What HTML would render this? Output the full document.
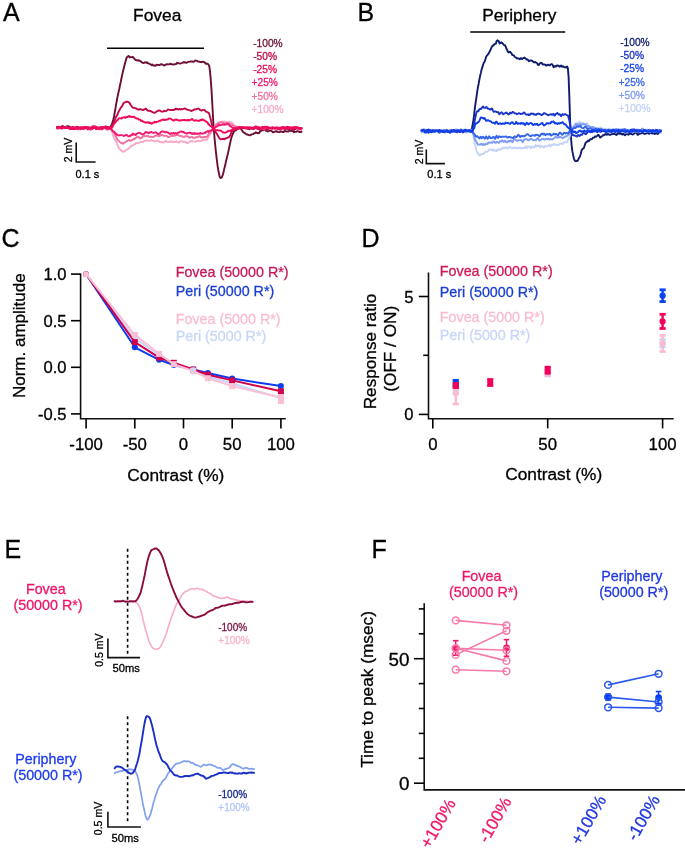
<!DOCTYPE html>
<html><head><meta charset="utf-8"><style>
html,body{margin:0;padding:0;background:#fff;}
svg{display:block;will-change:transform;}
text{font-family:"Liberation Sans", sans-serif;}
</style></head><body>
<svg width="685" height="848" viewBox="0 0 685 848">
<rect width="685" height="848" fill="#fff"/>
<text x="3" y="21" font-size="25" fill="#000" stroke="#000" stroke-width="0.3" text-anchor="start">A</text>
<text x="357.5" y="21" font-size="25" fill="#000" stroke="#000" stroke-width="0.3" text-anchor="start">B</text>
<text x="1.5" y="247.2" font-size="25" fill="#000" stroke="#000" stroke-width="0.3" text-anchor="start">C</text>
<text x="361.5" y="247.2" font-size="25" fill="#000" stroke="#000" stroke-width="0.3" text-anchor="start">D</text>
<text x="4.5" y="557.6" font-size="25" fill="#000" stroke="#000" stroke-width="0.3" text-anchor="start">E</text>
<text x="371.5" y="557.6" font-size="25" fill="#000" stroke="#000" stroke-width="0.3" text-anchor="start">F</text>
<text x="157.2" y="21.1" font-size="17.4" fill="#000" stroke="#000" stroke-width="0.3" text-anchor="middle">Fovea</text>
<line x1="107" y1="48.2" x2="204" y2="48.2" stroke="#000" stroke-width="1.6"/>
<path d="M57.00,127.26 L57.75,127.98 L58.50,127.96 L59.25,128.07 L60.00,128.21 L60.75,127.88 L61.50,128.07 L62.25,127.97 L63.00,127.79 L63.75,127.90 L64.50,127.42 L65.25,127.57 L66.00,126.96 L66.75,126.31 L67.50,126.15 L68.25,126.21 L69.00,126.42 L69.75,126.92 L70.50,127.57 L71.25,127.58 L72.00,127.17 L72.75,126.91 L73.50,126.84 L74.25,126.93 L75.00,127.25 L75.75,127.27 L76.50,126.96 L77.25,126.66 L78.00,127.50 L78.75,127.39 L79.50,127.69 L80.25,128.24 L81.00,127.70 L81.75,127.92 L82.50,127.97 L83.25,127.70 L84.00,127.48 L84.75,127.54 L85.50,127.94 L86.25,127.42 L87.00,128.09 L87.75,128.10 L88.50,127.44 L89.25,128.59 L90.00,128.55 L90.75,128.12 L91.50,128.34 L92.25,127.87 L93.00,127.56 L93.75,128.16 L94.50,128.11 L95.25,128.13 L96.00,128.65 L96.75,128.19 L97.50,128.27 L98.25,127.89 L99.00,127.46 L99.75,127.28 L100.50,127.01 L101.25,127.09 L102.00,127.32 L102.75,128.07 L103.50,127.81 L104.25,127.60 L105.00,127.50 L105.75,126.47 L106.50,126.73 L107.25,126.94 L108.00,127.12 L108.75,127.97 L109.50,127.99 L110.25,127.42 L111.00,125.92 L111.75,124.64 L112.50,122.35 L113.25,119.76 L114.00,116.67 L114.75,112.26 L115.50,108.15 L116.25,103.65 L117.00,99.53 L117.75,95.60 L118.50,92.20 L119.25,88.96 L120.00,85.22 L120.75,81.97 L121.50,77.98 L122.25,74.62 L123.00,71.31 L123.75,68.31 L124.50,65.35 L125.25,62.48 L126.00,59.65 L126.75,57.26 L127.50,56.91 L128.25,56.02 L129.00,56.27 L129.75,57.44 L130.50,57.14 L131.25,57.15 L132.00,57.12 L132.75,56.80 L133.50,57.62 L134.25,58.55 L135.00,59.50 L135.75,60.14 L136.50,60.20 L137.25,60.50 L138.00,60.51 L138.75,60.22 L139.50,60.91 L140.25,60.95 L141.00,61.57 L141.75,62.29 L142.50,62.54 L143.25,62.93 L144.00,62.86 L144.75,62.39 L145.50,62.21 L146.25,62.72 L147.00,62.27 L147.75,63.39 L148.50,63.39 L149.25,63.70 L150.00,64.29 L150.75,64.42 L151.50,65.16 L152.25,64.52 L153.00,65.27 L153.75,65.52 L154.50,65.45 L155.25,65.86 L156.00,65.40 L156.75,64.61 L157.50,64.97 L158.25,64.88 L159.00,64.90 L159.75,64.94 L160.50,64.36 L161.25,64.11 L162.00,64.51 L162.75,64.70 L163.50,65.19 L164.25,65.59 L165.00,64.93 L165.75,64.84 L166.50,64.32 L167.25,64.28 L168.00,64.36 L168.75,64.33 L169.50,64.03 L170.25,63.73 L171.00,64.36 L171.75,64.20 L172.50,64.26 L173.25,64.58 L174.00,64.43 L174.75,64.10 L175.50,64.29 L176.25,63.88 L177.00,62.75 L177.75,63.35 L178.50,63.30 L179.25,63.41 L180.00,63.62 L180.75,63.41 L181.50,63.12 L182.25,62.92 L183.00,62.69 L183.75,62.02 L184.50,62.51 L185.25,62.27 L186.00,62.60 L186.75,62.83 L187.50,62.08 L188.25,61.91 L189.00,61.84 L189.75,61.57 L190.50,61.49 L191.25,61.49 L192.00,61.51 L192.75,61.69 L193.50,61.74 L194.25,61.45 L195.00,60.55 L195.75,60.60 L196.50,60.79 L197.25,60.95 L198.00,61.62 L198.75,61.63 L199.50,61.66 L200.25,62.10 L201.00,61.88 L201.75,62.22 L202.50,61.66 L203.25,61.76 L204.00,62.20 L204.75,62.16 L205.50,63.39 L206.25,63.88 L207.00,63.76 L207.75,63.74 L208.50,64.68 L209.25,65.90 L210.00,71.40 L210.75,79.67 L211.50,89.85 L212.25,103.19 L213.00,116.79 L213.75,128.53 L214.50,137.59 L215.25,145.62 L216.00,152.55 L216.75,159.09 L217.50,165.19 L218.25,170.00 L219.00,173.60 L219.75,176.97 L220.50,178.08 L221.25,177.93 L222.00,176.92 L222.75,175.01 L223.50,172.29 L224.25,168.87 L225.00,166.08 L225.75,162.43 L226.50,159.24 L227.25,156.12 L228.00,153.22 L228.75,149.57 L229.50,146.27 L230.25,142.61 L231.00,139.00 L231.75,136.76 L232.50,134.46 L233.25,133.07 L234.00,131.50 L234.75,131.04 L235.50,130.40 L236.25,129.94 L237.00,129.53 L237.75,128.57 L238.50,128.51 L239.25,127.85 L240.00,127.34 L240.75,128.49 L241.50,129.70 L242.25,130.84 L243.00,132.04 L243.75,132.43 L244.50,132.86 L245.25,133.32 L246.00,134.03 L246.75,134.56 L247.50,134.44 L248.25,134.85 L249.00,135.16 L249.75,135.32 L250.50,134.95 L251.25,134.73 L252.00,134.14 L252.75,134.17 L253.50,133.81 L254.25,133.30 L255.00,133.23 L255.75,132.18 L256.50,132.93 L257.25,133.20 L258.00,132.79 L258.75,133.19 L259.50,132.48 L260.25,130.89 L261.00,130.86 L261.75,130.36 L262.50,130.07 L263.25,130.41 L264.00,130.13 L264.75,130.04 L265.50,130.39 L266.25,130.87 L267.00,130.98 L267.75,131.58 L268.50,131.06 L269.25,130.88 L270.00,130.36 L270.75,130.44 L271.50,131.01 L272.25,131.51 L273.00,132.39 L273.75,131.99 L274.50,131.82 L275.25,131.50 L276.00,131.28 L276.75,131.32 L277.50,131.79 L278.25,132.09 L279.00,132.16 L279.75,131.96 L280.50,131.27 L281.25,131.61 L282.00,131.79 L282.75,132.00 L283.50,132.09 L284.25,131.21 L285.00,131.03 L285.75,131.29 L286.50,131.27 L287.25,131.56 L288.00,131.51 L288.75,131.26 L289.50,130.87 L290.25,130.87 L291.00,130.66 L291.75,130.92 L292.50,131.18 L293.25,131.45 L294.00,132.22 L294.75,131.83 L295.50,131.89 L296.25,131.76 L297.00,131.26 L297.75,131.04 L298.50,131.39 L299.25,131.98 L300.00,131.90 L300.75,132.16 L301.50,131.67" fill="none" stroke="#6c0f36" stroke-width="1.9" stroke-linejoin="round" stroke-linecap="round"/>
<path d="M57.00,128.83 L57.75,128.56 L58.50,127.94 L59.25,127.32 L60.00,127.86 L60.75,128.37 L61.50,128.50 L62.25,128.21 L63.00,127.56 L63.75,127.35 L64.50,127.59 L65.25,127.93 L66.00,128.19 L66.75,128.00 L67.50,128.06 L68.25,128.05 L69.00,127.93 L69.75,128.19 L70.50,128.81 L71.25,128.94 L72.00,128.98 L72.75,128.27 L73.50,127.79 L74.25,126.96 L75.00,126.49 L75.75,127.31 L76.50,127.42 L77.25,128.00 L78.00,127.90 L78.75,127.50 L79.50,127.05 L80.25,127.31 L81.00,128.60 L81.75,128.79 L82.50,128.76 L83.25,128.17 L84.00,127.42 L84.75,127.29 L85.50,127.17 L86.25,127.59 L87.00,127.23 L87.75,127.65 L88.50,128.37 L89.25,128.69 L90.00,128.91 L90.75,128.71 L91.50,128.32 L92.25,127.84 L93.00,127.89 L93.75,127.30 L94.50,126.87 L95.25,127.26 L96.00,127.30 L96.75,127.80 L97.50,128.59 L98.25,127.77 L99.00,127.58 L99.75,127.56 L100.50,127.37 L101.25,127.81 L102.00,128.40 L102.75,128.41 L103.50,127.89 L104.25,127.71 L105.00,127.63 L105.75,127.72 L106.50,127.49 L107.25,128.23 L108.00,128.17 L108.75,128.45 L109.50,128.94 L110.25,128.48 L111.00,128.84 L111.75,130.94 L112.50,133.15 L113.25,135.98 L114.00,138.07 L114.75,139.05 L115.50,140.40 L116.25,141.62 L117.00,143.94 L117.75,145.10 L118.50,147.39 L119.25,148.71 L120.00,149.08 L120.75,150.31 L121.50,150.67 L122.25,151.20 L123.00,151.74 L123.75,151.66 L124.50,151.48 L125.25,150.74 L126.00,149.95 L126.75,149.60 L127.50,149.39 L128.25,148.68 L129.00,148.48 L129.75,147.60 L130.50,146.26 L131.25,146.29 L132.00,145.39 L132.75,145.43 L133.50,144.92 L134.25,144.32 L135.00,144.12 L135.75,143.15 L136.50,143.36 L137.25,142.97 L138.00,143.02 L138.75,143.05 L139.50,142.32 L140.25,142.15 L141.00,141.81 L141.75,141.98 L142.50,141.90 L143.25,141.79 L144.00,141.10 L144.75,140.90 L145.50,140.76 L146.25,140.12 L147.00,140.61 L147.75,140.72 L148.50,140.56 L149.25,140.79 L150.00,140.58 L150.75,139.86 L151.50,140.50 L152.25,140.61 L153.00,140.65 L153.75,141.24 L154.50,140.90 L155.25,141.34 L156.00,141.30 L156.75,140.76 L157.50,140.46 L158.25,140.97 L159.00,141.23 L159.75,141.76 L160.50,142.39 L161.25,141.89 L162.00,142.06 L162.75,142.65 L163.50,142.38 L164.25,141.87 L165.00,141.57 L165.75,140.56 L166.50,141.18 L167.25,141.99 L168.00,142.04 L168.75,142.06 L169.50,141.72 L170.25,141.93 L171.00,141.35 L171.75,141.98 L172.50,141.76 L173.25,141.64 L174.00,142.21 L174.75,141.94 L175.50,141.80 L176.25,141.13 L177.00,141.93 L177.75,142.27 L178.50,142.62 L179.25,142.64 L180.00,141.56 L180.75,141.15 L181.50,141.25 L182.25,141.49 L183.00,142.05 L183.75,141.79 L184.50,141.76 L185.25,141.75 L186.00,142.17 L186.75,143.11 L187.50,143.06 L188.25,142.79 L189.00,142.32 L189.75,141.48 L190.50,141.25 L191.25,141.44 L192.00,141.08 L192.75,141.44 L193.50,141.61 L194.25,141.66 L195.00,141.90 L195.75,141.42 L196.50,141.10 L197.25,140.90 L198.00,140.73 L198.75,141.00 L199.50,141.25 L200.25,140.84 L201.00,140.98 L201.75,140.40 L202.50,140.12 L203.25,140.37 L204.00,139.55 L204.75,139.87 L205.50,139.94 L206.25,139.75 L207.00,139.66 L207.75,138.51 L208.50,136.91 L209.25,135.57 L210.00,134.29 L210.75,133.20 L211.50,131.77 L212.25,130.53 L213.00,129.39 L213.75,128.06 L214.50,127.19 L215.25,126.13 L216.00,124.44 L216.75,123.67 L217.50,123.17 L218.25,122.67 L219.00,123.03 L219.75,122.39 L220.50,121.98 L221.25,121.89 L222.00,121.75 L222.75,121.91 L223.50,121.43 L224.25,121.39 L225.00,121.69 L225.75,122.07 L226.50,122.81 L227.25,122.34 L228.00,122.51 L228.75,122.39 L229.50,121.75 L230.25,122.65 L231.00,122.22 L231.75,122.31 L232.50,123.45 L233.25,124.29 L234.00,125.20 L234.75,126.22 L235.50,127.43 L236.25,127.86 L237.00,128.14 L237.75,128.08 L238.50,127.21 L239.25,126.56 L240.00,126.82 L240.75,127.11 L241.50,127.64 L242.25,128.26 L243.00,127.93 L243.75,127.85 L244.50,128.10 L245.25,128.02 L246.00,128.66 L246.75,128.84 L247.50,128.53 L248.25,128.47 L249.00,127.81 L249.75,127.16 L250.50,127.45 L251.25,127.31 L252.00,127.74 L252.75,127.72 L253.50,127.41 L254.25,127.23 L255.00,126.85 L255.75,126.67 L256.50,126.68 L257.25,127.17 L258.00,127.57 L258.75,128.11 L259.50,128.22 L260.25,128.17 L261.00,127.15 L261.75,127.30 L262.50,127.48 L263.25,127.46 L264.00,128.91 L264.75,129.32 L265.50,129.24 L266.25,129.12 L267.00,128.82 L267.75,128.28 L268.50,128.17 L269.25,128.36 L270.00,128.74 L270.75,128.87 L271.50,128.86 L272.25,128.63 L273.00,128.43 L273.75,128.48 L274.50,128.97 L275.25,128.59 L276.00,128.09 L276.75,128.04 L277.50,127.82 L278.25,128.47 L279.00,128.04 L279.75,127.81 L280.50,127.66 L281.25,127.11 L282.00,127.10 L282.75,127.74 L283.50,127.79 L284.25,128.16 L285.00,128.50 L285.75,128.50 L286.50,128.26 L287.25,128.46 L288.00,128.32 L288.75,127.70 L289.50,127.85 L290.25,127.26 L291.00,127.78 L291.75,128.14 L292.50,127.78 L293.25,128.03 L294.00,127.69 L294.75,127.91 L295.50,128.00 L296.25,127.84 L297.00,128.34 L297.75,128.77 L298.50,129.63 L299.25,129.79 L300.00,129.47 L300.75,129.24 L301.50,128.55" fill="none" stroke="#f8aac9" stroke-width="1.9" stroke-linejoin="round" stroke-linecap="round"/>
<path d="M57.00,127.98 L57.75,128.12 L58.50,128.32 L59.25,127.97 L60.00,127.65 L60.75,127.42 L61.50,127.63 L62.25,127.91 L63.00,127.79 L63.75,128.00 L64.50,127.56 L65.25,127.80 L66.00,127.52 L66.75,127.30 L67.50,127.25 L68.25,127.84 L69.00,128.67 L69.75,128.97 L70.50,129.33 L71.25,129.17 L72.00,128.79 L72.75,128.71 L73.50,128.87 L74.25,128.36 L75.00,128.65 L75.75,128.61 L76.50,128.84 L77.25,129.23 L78.00,129.20 L78.75,129.59 L79.50,128.30 L80.25,127.95 L81.00,127.71 L81.75,127.63 L82.50,128.51 L83.25,128.19 L84.00,127.70 L84.75,127.68 L85.50,127.22 L86.25,127.22 L87.00,127.57 L87.75,127.34 L88.50,126.83 L89.25,127.34 L90.00,127.62 L90.75,128.09 L91.50,129.48 L92.25,129.09 L93.00,128.43 L93.75,127.77 L94.50,126.74 L95.25,126.57 L96.00,127.18 L96.75,126.82 L97.50,127.32 L98.25,127.00 L99.00,127.07 L99.75,127.68 L100.50,127.47 L101.25,127.94 L102.00,127.66 L102.75,127.50 L103.50,127.05 L104.25,127.07 L105.00,127.84 L105.75,128.69 L106.50,129.66 L107.25,129.90 L108.00,129.08 L108.75,128.91 L109.50,128.46 L110.25,128.24 L111.00,128.85 L111.75,129.35 L112.50,130.46 L113.25,131.83 L114.00,132.95 L114.75,134.01 L115.50,135.93 L116.25,137.07 L117.00,138.54 L117.75,140.04 L118.50,140.67 L119.25,141.35 L120.00,142.17 L120.75,142.86 L121.50,142.95 L122.25,143.32 L123.00,143.75 L123.75,143.03 L124.50,142.70 L125.25,142.19 L126.00,141.86 L126.75,141.14 L127.50,140.62 L128.25,140.39 L129.00,139.90 L129.75,140.50 L130.50,140.94 L131.25,140.37 L132.00,140.17 L132.75,139.65 L133.50,138.76 L134.25,139.23 L135.00,138.47 L135.75,137.69 L136.50,137.60 L137.25,136.75 L138.00,136.67 L138.75,137.32 L139.50,137.40 L140.25,138.29 L141.00,138.32 L141.75,137.59 L142.50,137.13 L143.25,136.20 L144.00,135.76 L144.75,136.29 L145.50,136.22 L146.25,135.78 L147.00,136.30 L147.75,136.03 L148.50,136.26 L149.25,136.85 L150.00,136.75 L150.75,136.73 L151.50,136.94 L152.25,136.98 L153.00,136.85 L153.75,136.92 L154.50,136.00 L155.25,135.78 L156.00,135.54 L156.75,135.46 L157.50,135.49 L158.25,136.07 L159.00,136.19 L159.75,135.74 L160.50,135.63 L161.25,135.01 L162.00,134.96 L162.75,135.13 L163.50,135.73 L164.25,135.63 L165.00,135.85 L165.75,135.86 L166.50,135.84 L167.25,136.38 L168.00,137.06 L168.75,136.99 L169.50,136.87 L170.25,136.30 L171.00,135.74 L171.75,135.72 L172.50,135.74 L173.25,136.02 L174.00,135.47 L174.75,135.56 L175.50,135.59 L176.25,134.94 L177.00,134.82 L177.75,135.02 L178.50,135.25 L179.25,135.90 L180.00,135.82 L180.75,135.83 L181.50,136.07 L182.25,136.33 L183.00,136.91 L183.75,136.80 L184.50,136.77 L185.25,136.42 L186.00,136.09 L186.75,136.14 L187.50,136.43 L188.25,136.71 L189.00,137.49 L189.75,137.62 L190.50,137.47 L191.25,137.22 L192.00,136.81 L192.75,137.79 L193.50,137.75 L194.25,137.79 L195.00,137.83 L195.75,137.14 L196.50,137.29 L197.25,137.30 L198.00,136.77 L198.75,136.58 L199.50,136.19 L200.25,136.38 L201.00,137.34 L201.75,137.47 L202.50,137.63 L203.25,137.11 L204.00,136.81 L204.75,137.21 L205.50,137.00 L206.25,137.21 L207.00,136.54 L207.75,135.80 L208.50,134.49 L209.25,133.57 L210.00,132.89 L210.75,131.77 L211.50,131.09 L212.25,130.34 L213.00,129.22 L213.75,128.18 L214.50,127.45 L215.25,126.08 L216.00,125.23 L216.75,124.60 L217.50,123.55 L218.25,123.25 L219.00,123.11 L219.75,122.27 L220.50,122.45 L221.25,122.01 L222.00,122.02 L222.75,123.00 L223.50,123.51 L224.25,123.73 L225.00,123.58 L225.75,122.92 L226.50,122.44 L227.25,123.24 L228.00,122.85 L228.75,123.47 L229.50,123.75 L230.25,124.04 L231.00,124.85 L231.75,124.63 L232.50,125.17 L233.25,125.43 L234.00,125.87 L234.75,126.74 L235.50,126.93 L236.25,126.37 L237.00,126.93 L237.75,127.14 L238.50,127.38 L239.25,128.12 L240.00,128.17 L240.75,127.81 L241.50,127.55 L242.25,127.48 L243.00,127.54 L243.75,127.25 L244.50,127.88 L245.25,127.75 L246.00,127.01 L246.75,127.88 L247.50,127.48 L248.25,127.27 L249.00,127.52 L249.75,127.43 L250.50,127.85 L251.25,128.15 L252.00,128.40 L252.75,128.34 L253.50,127.75 L254.25,128.01 L255.00,127.88 L255.75,127.48 L256.50,127.54 L257.25,127.45 L258.00,127.48 L258.75,127.47 L259.50,127.50 L260.25,127.85 L261.00,127.91 L261.75,128.39 L262.50,128.92 L263.25,128.76 L264.00,129.43 L264.75,128.88 L265.50,128.75 L266.25,128.46 L267.00,128.33 L267.75,129.16 L268.50,128.26 L269.25,128.06 L270.00,127.67 L270.75,127.38 L271.50,128.26 L272.25,128.55 L273.00,128.49 L273.75,128.45 L274.50,128.18 L275.25,128.54 L276.00,127.66 L276.75,127.66 L277.50,127.35 L278.25,127.33 L279.00,128.00 L279.75,127.50 L280.50,127.96 L281.25,127.36 L282.00,127.14 L282.75,126.92 L283.50,126.79 L284.25,127.25 L285.00,127.89 L285.75,128.35 L286.50,128.70 L287.25,128.55 L288.00,128.19 L288.75,128.43 L289.50,128.43 L290.25,128.32 L291.00,128.27 L291.75,128.04 L292.50,127.73 L293.25,127.55 L294.00,127.96 L294.75,127.89 L295.50,128.02 L296.25,128.05 L297.00,127.83 L297.75,128.10 L298.50,127.81 L299.25,128.74 L300.00,128.75 L300.75,129.21 L301.50,129.66" fill="none" stroke="#f070a0" stroke-width="1.9" stroke-linejoin="round" stroke-linecap="round"/>
<path d="M57.00,127.09 L57.75,126.93 L58.50,127.58 L59.25,127.55 L60.00,127.32 L60.75,126.98 L61.50,126.71 L62.25,125.96 L63.00,126.11 L63.75,127.19 L64.50,127.20 L65.25,128.07 L66.00,127.94 L66.75,127.52 L67.50,127.76 L68.25,127.53 L69.00,128.16 L69.75,128.63 L70.50,128.80 L71.25,128.86 L72.00,128.36 L72.75,127.98 L73.50,127.83 L74.25,128.06 L75.00,128.37 L75.75,128.74 L76.50,128.18 L77.25,127.81 L78.00,128.11 L78.75,127.43 L79.50,127.82 L80.25,127.83 L81.00,127.09 L81.75,127.25 L82.50,128.30 L83.25,128.76 L84.00,128.84 L84.75,128.52 L85.50,127.60 L86.25,127.55 L87.00,127.64 L87.75,127.70 L88.50,128.12 L89.25,128.08 L90.00,128.22 L90.75,128.08 L91.50,127.29 L92.25,126.78 L93.00,126.18 L93.75,126.79 L94.50,127.09 L95.25,127.47 L96.00,128.80 L96.75,128.94 L97.50,128.77 L98.25,128.90 L99.00,128.67 L99.75,128.04 L100.50,128.11 L101.25,127.79 L102.00,126.89 L102.75,127.61 L103.50,127.14 L104.25,126.82 L105.00,127.25 L105.75,126.70 L106.50,127.53 L107.25,127.98 L108.00,128.00 L108.75,128.44 L109.50,127.69 L110.25,127.60 L111.00,127.20 L111.75,125.96 L112.50,125.59 L113.25,123.72 L114.00,121.85 L114.75,120.04 L115.50,118.09 L116.25,116.36 L117.00,115.42 L117.75,114.08 L118.50,111.72 L119.25,110.42 L120.00,109.19 L120.75,107.48 L121.50,106.92 L122.25,105.80 L123.00,104.08 L123.75,103.16 L124.50,102.35 L125.25,102.20 L126.00,101.95 L126.75,101.80 L127.50,101.79 L128.25,101.98 L129.00,102.44 L129.75,103.26 L130.50,104.78 L131.25,105.69 L132.00,106.85 L132.75,107.59 L133.50,107.69 L134.25,107.93 L135.00,108.05 L135.75,108.54 L136.50,108.50 L137.25,109.26 L138.00,109.61 L138.75,109.31 L139.50,109.63 L140.25,109.09 L141.00,109.25 L141.75,109.38 L142.50,110.02 L143.25,110.09 L144.00,109.40 L144.75,109.49 L145.50,108.56 L146.25,108.89 L147.00,110.05 L147.75,110.58 L148.50,110.87 L149.25,110.70 L150.00,111.00 L150.75,110.95 L151.50,111.43 L152.25,112.07 L153.00,112.33 L153.75,112.68 L154.50,112.75 L155.25,112.55 L156.00,111.97 L156.75,111.36 L157.50,110.97 L158.25,110.87 L159.00,110.35 L159.75,110.52 L160.50,110.87 L161.25,111.59 L162.00,111.58 L162.75,111.52 L163.50,111.40 L164.25,110.73 L165.00,111.30 L165.75,111.12 L166.50,110.85 L167.25,110.11 L168.00,109.41 L168.75,109.68 L169.50,109.89 L170.25,110.03 L171.00,110.14 L171.75,109.91 L172.50,109.99 L173.25,110.06 L174.00,110.03 L174.75,109.37 L175.50,108.76 L176.25,109.42 L177.00,108.73 L177.75,109.16 L178.50,109.55 L179.25,108.85 L180.00,109.25 L180.75,109.30 L181.50,109.19 L182.25,109.26 L183.00,108.88 L183.75,108.83 L184.50,108.54 L185.25,108.39 L186.00,109.07 L186.75,109.33 L187.50,109.90 L188.25,109.92 L189.00,110.15 L189.75,110.33 L190.50,110.42 L191.25,111.04 L192.00,110.71 L192.75,110.28 L193.50,110.20 L194.25,109.32 L195.00,109.46 L195.75,109.37 L196.50,109.01 L197.25,108.92 L198.00,108.59 L198.75,108.79 L199.50,109.24 L200.25,110.17 L201.00,110.48 L201.75,110.48 L202.50,109.97 L203.25,109.83 L204.00,109.84 L204.75,110.16 L205.50,111.20 L206.25,111.60 L207.00,111.99 L207.75,112.46 L208.50,112.57 L209.25,113.89 L210.00,116.84 L210.75,119.42 L211.50,122.31 L212.25,125.95 L213.00,128.20 L213.75,129.48 L214.50,131.02 L215.25,131.79 L216.00,132.43 L216.75,133.63 L217.50,135.04 L218.25,136.35 L219.00,137.50 L219.75,138.61 L220.50,139.25 L221.25,139.06 L222.00,139.14 L222.75,139.06 L223.50,138.70 L224.25,139.33 L225.00,138.97 L225.75,138.18 L226.50,138.33 L227.25,137.77 L228.00,137.46 L228.75,137.41 L229.50,136.41 L230.25,135.28 L231.00,133.34 L231.75,131.79 L232.50,130.41 L233.25,129.31 L234.00,129.54 L234.75,129.54 L235.50,129.01 L236.25,128.59 L237.00,129.02 L237.75,128.45 L238.50,128.17 L239.25,128.58 L240.00,128.02 L240.75,127.91 L241.50,128.54 L242.25,128.27 L243.00,127.81 L243.75,128.07 L244.50,128.04 L245.25,127.97 L246.00,128.36 L246.75,128.25 L247.50,128.90 L248.25,128.86 L249.00,129.19 L249.75,129.19 L250.50,128.22 L251.25,128.68 L252.00,128.51 L252.75,128.93 L253.50,129.07 L254.25,128.63 L255.00,128.16 L255.75,127.91 L256.50,127.99 L257.25,128.64 L258.00,128.95 L258.75,129.12 L259.50,129.43 L260.25,129.03 L261.00,128.41 L261.75,127.68 L262.50,126.72 L263.25,127.19 L264.00,127.40 L264.75,128.19 L265.50,128.85 L266.25,128.89 L267.00,129.50 L267.75,129.07 L268.50,128.82 L269.25,128.30 L270.00,128.04 L270.75,127.90 L271.50,127.97 L272.25,128.47 L273.00,127.87 L273.75,128.13 L274.50,127.86 L275.25,127.40 L276.00,128.24 L276.75,128.15 L277.50,128.70 L278.25,128.14 L279.00,128.23 L279.75,128.07 L280.50,128.03 L281.25,128.62 L282.00,127.43 L282.75,127.39 L283.50,127.27 L284.25,127.73 L285.00,128.67 L285.75,129.01 L286.50,128.50 L287.25,128.47 L288.00,128.97 L288.75,128.91 L289.50,129.31 L290.25,128.33 L291.00,128.04 L291.75,128.92 L292.50,129.24 L293.25,130.19 L294.00,130.09 L294.75,128.90 L295.50,129.11 L296.25,128.31 L297.00,128.08 L297.75,128.50 L298.50,128.36 L299.25,128.91 L300.00,129.11 L300.75,128.79 L301.50,128.09" fill="none" stroke="#c00a4a" stroke-width="1.9" stroke-linejoin="round" stroke-linecap="round"/>
<path d="M57.00,128.31 L57.75,128.36 L58.50,128.08 L59.25,128.24 L60.00,127.52 L60.75,127.90 L61.50,128.68 L62.25,128.27 L63.00,127.96 L63.75,127.64 L64.50,127.20 L65.25,127.40 L66.00,127.33 L66.75,127.44 L67.50,127.51 L68.25,127.60 L69.00,127.83 L69.75,128.35 L70.50,128.37 L71.25,127.60 L72.00,127.71 L72.75,127.64 L73.50,127.27 L74.25,127.15 L75.00,127.16 L75.75,127.27 L76.50,127.97 L77.25,127.95 L78.00,128.90 L78.75,128.28 L79.50,128.08 L80.25,129.20 L81.00,128.67 L81.75,129.08 L82.50,128.39 L83.25,128.19 L84.00,127.64 L84.75,126.77 L85.50,128.07 L86.25,128.10 L87.00,128.92 L87.75,129.44 L88.50,129.00 L89.25,129.29 L90.00,129.20 L90.75,129.49 L91.50,128.62 L92.25,128.05 L93.00,126.83 L93.75,126.28 L94.50,126.70 L95.25,126.44 L96.00,127.10 L96.75,127.62 L97.50,128.22 L98.25,128.96 L99.00,129.00 L99.75,129.43 L100.50,128.55 L101.25,128.02 L102.00,128.33 L102.75,127.53 L103.50,127.69 L104.25,127.37 L105.00,127.11 L105.75,128.05 L106.50,127.90 L107.25,128.40 L108.00,128.07 L108.75,127.16 L109.50,127.01 L110.25,127.43 L111.00,128.81 L111.75,129.96 L112.50,130.93 L113.25,131.58 L114.00,131.58 L114.75,132.44 L115.50,133.38 L116.25,133.90 L117.00,134.88 L117.75,135.08 L118.50,135.44 L119.25,135.27 L120.00,135.25 L120.75,135.10 L121.50,135.17 L122.25,135.37 L123.00,135.48 L123.75,136.00 L124.50,135.47 L125.25,135.40 L126.00,134.93 L126.75,134.90 L127.50,135.80 L128.25,136.23 L129.00,136.30 L129.75,136.40 L130.50,135.21 L131.25,135.27 L132.00,135.01 L132.75,133.47 L133.50,134.66 L134.25,134.53 L135.00,134.25 L135.75,135.06 L136.50,133.99 L137.25,133.39 L138.00,133.13 L138.75,132.77 L139.50,132.92 L140.25,132.91 L141.00,133.73 L141.75,133.94 L142.50,134.51 L143.25,134.16 L144.00,133.82 L144.75,133.13 L145.50,131.92 L146.25,132.55 L147.00,132.12 L147.75,132.88 L148.50,133.23 L149.25,132.42 L150.00,132.58 L150.75,132.21 L151.50,132.04 L152.25,132.59 L153.00,132.89 L153.75,132.84 L154.50,132.67 L155.25,132.49 L156.00,132.22 L156.75,132.71 L157.50,133.84 L158.25,134.00 L159.00,134.00 L159.75,133.58 L160.50,132.42 L161.25,131.83 L162.00,131.49 L162.75,131.40 L163.50,131.52 L164.25,132.04 L165.00,132.22 L165.75,132.27 L166.50,131.99 L167.25,132.27 L168.00,132.55 L168.75,133.18 L169.50,133.83 L170.25,133.76 L171.00,133.51 L171.75,133.15 L172.50,133.76 L173.25,132.87 L174.00,133.33 L174.75,133.64 L175.50,132.89 L176.25,133.53 L177.00,133.56 L177.75,132.79 L178.50,132.78 L179.25,132.25 L180.00,131.60 L180.75,131.62 L181.50,131.45 L182.25,131.81 L183.00,132.22 L183.75,131.99 L184.50,132.74 L185.25,133.13 L186.00,133.27 L186.75,133.68 L187.50,133.06 L188.25,132.92 L189.00,132.88 L189.75,132.51 L190.50,132.85 L191.25,133.71 L192.00,133.02 L192.75,133.98 L193.50,133.91 L194.25,132.96 L195.00,134.09 L195.75,133.41 L196.50,133.38 L197.25,133.94 L198.00,133.45 L198.75,133.72 L199.50,133.72 L200.25,133.08 L201.00,133.65 L201.75,133.47 L202.50,133.68 L203.25,133.36 L204.00,133.01 L204.75,133.20 L205.50,131.97 L206.25,132.28 L207.00,131.47 L207.75,131.01 L208.50,131.95 L209.25,131.10 L210.00,130.64 L210.75,130.77 L211.50,129.73 L212.25,130.01 L213.00,129.88 L213.75,128.54 L214.50,127.96 L215.25,127.30 L216.00,126.94 L216.75,126.71 L217.50,126.29 L218.25,125.49 L219.00,124.79 L219.75,125.32 L220.50,125.21 L221.25,124.79 L222.00,124.75 L222.75,124.29 L223.50,124.46 L224.25,124.76 L225.00,124.69 L225.75,124.50 L226.50,123.84 L227.25,123.62 L228.00,124.33 L228.75,124.40 L229.50,125.34 L230.25,126.42 L231.00,126.59 L231.75,126.98 L232.50,127.82 L233.25,127.92 L234.00,127.87 L234.75,128.38 L235.50,128.06 L236.25,127.75 L237.00,128.04 L237.75,127.81 L238.50,127.03 L239.25,127.25 L240.00,127.14 L240.75,127.04 L241.50,127.15 L242.25,127.09 L243.00,127.17 L243.75,127.35 L244.50,127.52 L245.25,127.85 L246.00,127.46 L246.75,127.35 L247.50,128.17 L248.25,127.72 L249.00,127.96 L249.75,128.39 L250.50,127.83 L251.25,127.96 L252.00,128.20 L252.75,128.20 L253.50,127.59 L254.25,127.41 L255.00,127.00 L255.75,126.29 L256.50,126.74 L257.25,126.74 L258.00,127.17 L258.75,127.24 L259.50,127.56 L260.25,127.98 L261.00,127.63 L261.75,127.97 L262.50,128.48 L263.25,128.45 L264.00,128.48 L264.75,128.42 L265.50,127.57 L266.25,127.55 L267.00,128.05 L267.75,127.80 L268.50,128.04 L269.25,128.31 L270.00,127.86 L270.75,128.20 L271.50,127.93 L272.25,127.29 L273.00,127.28 L273.75,127.93 L274.50,128.13 L275.25,128.23 L276.00,128.22 L276.75,127.46 L277.50,127.80 L278.25,128.04 L279.00,128.89 L279.75,129.01 L280.50,129.27 L281.25,129.30 L282.00,128.83 L282.75,128.29 L283.50,127.78 L284.25,127.66 L285.00,127.39 L285.75,127.16 L286.50,127.49 L287.25,127.38 L288.00,127.32 L288.75,127.94 L289.50,127.57 L290.25,127.83 L291.00,127.56 L291.75,127.34 L292.50,127.51 L293.25,127.43 L294.00,127.72 L294.75,127.83 L295.50,127.47 L296.25,127.40 L297.00,127.91 L297.75,127.75 L298.50,128.52 L299.25,128.81 L300.00,128.28 L300.75,128.88 L301.50,127.91" fill="none" stroke="#f01870" stroke-width="1.9" stroke-linejoin="round" stroke-linecap="round"/>
<path d="M57.00,127.35 L57.75,126.81 L58.50,126.83 L59.25,126.72 L60.00,126.85 L60.75,127.42 L61.50,128.04 L62.25,128.05 L63.00,127.79 L63.75,127.30 L64.50,127.27 L65.25,126.93 L66.00,127.59 L66.75,127.73 L67.50,127.33 L68.25,128.10 L69.00,128.03 L69.75,128.30 L70.50,128.90 L71.25,128.83 L72.00,128.90 L72.75,129.19 L73.50,128.82 L74.25,129.24 L75.00,128.89 L75.75,128.52 L76.50,128.25 L77.25,127.69 L78.00,127.89 L78.75,127.43 L79.50,127.94 L80.25,128.15 L81.00,127.99 L81.75,127.70 L82.50,127.45 L83.25,127.55 L84.00,127.21 L84.75,127.96 L85.50,127.22 L86.25,127.23 L87.00,127.26 L87.75,127.51 L88.50,127.69 L89.25,127.69 L90.00,127.83 L90.75,127.81 L91.50,128.11 L92.25,127.68 L93.00,128.49 L93.75,127.96 L94.50,128.03 L95.25,128.14 L96.00,127.08 L96.75,127.74 L97.50,128.53 L98.25,128.39 L99.00,128.16 L99.75,128.15 L100.50,127.95 L101.25,128.45 L102.00,129.38 L102.75,128.72 L103.50,128.31 L104.25,127.59 L105.00,126.75 L105.75,127.35 L106.50,127.19 L107.25,128.38 L108.00,128.87 L108.75,128.34 L109.50,128.82 L110.25,128.66 L111.00,128.65 L111.75,127.81 L112.50,126.64 L113.25,125.29 L114.00,123.77 L114.75,122.91 L115.50,122.39 L116.25,121.29 L117.00,120.41 L117.75,119.89 L118.50,118.72 L119.25,118.24 L120.00,118.20 L120.75,118.35 L121.50,118.57 L122.25,117.73 L123.00,117.61 L123.75,117.33 L124.50,117.08 L125.25,117.80 L126.00,117.42 L126.75,116.80 L127.50,116.99 L128.25,116.39 L129.00,115.99 L129.75,116.78 L130.50,116.42 L131.25,116.85 L132.00,117.29 L132.75,116.72 L133.50,116.77 L134.25,116.98 L135.00,117.80 L135.75,117.75 L136.50,118.65 L137.25,118.66 L138.00,118.45 L138.75,119.66 L139.50,119.61 L140.25,119.73 L141.00,120.92 L141.75,120.66 L142.50,121.01 L143.25,121.82 L144.00,121.90 L144.75,122.25 L145.50,122.68 L146.25,122.53 L147.00,122.57 L147.75,122.56 L148.50,122.15 L149.25,123.01 L150.00,122.73 L150.75,122.98 L151.50,123.78 L152.25,123.22 L153.00,122.78 L153.75,122.90 L154.50,121.70 L155.25,121.84 L156.00,122.39 L156.75,121.85 L157.50,121.90 L158.25,121.46 L159.00,120.94 L159.75,120.68 L160.50,120.93 L161.25,120.07 L162.00,119.79 L162.75,119.84 L163.50,119.43 L164.25,120.06 L165.00,119.68 L165.75,119.88 L166.50,119.80 L167.25,119.38 L168.00,119.24 L168.75,118.57 L169.50,118.67 L170.25,118.50 L171.00,118.91 L171.75,119.60 L172.50,119.80 L173.25,120.61 L174.00,120.49 L174.75,119.80 L175.50,119.79 L176.25,119.39 L177.00,119.86 L177.75,120.22 L178.50,120.28 L179.25,120.47 L180.00,120.34 L180.75,120.51 L181.50,120.27 L182.25,120.08 L183.00,119.93 L183.75,120.11 L184.50,119.83 L185.25,120.34 L186.00,120.25 L186.75,120.27 L187.50,120.43 L188.25,119.81 L189.00,120.53 L189.75,120.13 L190.50,119.77 L191.25,119.65 L192.00,118.92 L192.75,119.75 L193.50,120.27 L194.25,120.84 L195.00,120.66 L195.75,120.11 L196.50,120.30 L197.25,120.63 L198.00,120.77 L198.75,120.90 L199.50,120.83 L200.25,119.96 L201.00,120.23 L201.75,120.01 L202.50,119.26 L203.25,119.95 L204.00,120.34 L204.75,120.53 L205.50,121.14 L206.25,121.74 L207.00,121.99 L207.75,122.93 L208.50,124.50 L209.25,124.66 L210.00,125.73 L210.75,126.23 L211.50,126.63 L212.25,127.53 L213.00,127.87 L213.75,128.81 L214.50,129.37 L215.25,129.81 L216.00,130.16 L216.75,130.29 L217.50,130.28 L218.25,130.41 L219.00,130.64 L219.75,130.45 L220.50,130.80 L221.25,130.85 L222.00,131.59 L222.75,132.26 L223.50,132.49 L224.25,132.70 L225.00,132.77 L225.75,132.38 L226.50,132.02 L227.25,131.87 L228.00,130.95 L228.75,130.96 L229.50,130.65 L230.25,130.95 L231.00,130.35 L231.75,129.94 L232.50,129.45 L233.25,129.18 L234.00,129.19 L234.75,128.78 L235.50,129.26 L236.25,128.94 L237.00,128.57 L237.75,128.37 L238.50,127.54 L239.25,127.13 L240.00,127.45 L240.75,127.44 L241.50,127.68 L242.25,127.51 L243.00,127.30 L243.75,127.58 L244.50,128.30 L245.25,127.79 L246.00,128.00 L246.75,127.69 L247.50,127.36 L248.25,127.68 L249.00,127.67 L249.75,127.47 L250.50,127.53 L251.25,127.87 L252.00,127.87 L252.75,128.33 L253.50,128.02 L254.25,127.48 L255.00,127.73 L255.75,127.70 L256.50,127.73 L257.25,128.56 L258.00,128.76 L258.75,128.31 L259.50,128.11 L260.25,128.29 L261.00,128.36 L261.75,128.47 L262.50,128.34 L263.25,127.63 L264.00,127.01 L264.75,126.73 L265.50,127.13 L266.25,126.92 L267.00,126.69 L267.75,127.50 L268.50,127.27 L269.25,127.66 L270.00,128.26 L270.75,128.22 L271.50,128.34 L272.25,128.37 L273.00,127.90 L273.75,128.20 L274.50,128.53 L275.25,128.15 L276.00,128.42 L276.75,128.09 L277.50,128.03 L278.25,128.98 L279.00,129.43 L279.75,129.02 L280.50,128.84 L281.25,127.83 L282.00,127.46 L282.75,127.68 L283.50,128.59 L284.25,129.04 L285.00,128.28 L285.75,128.01 L286.50,127.17 L287.25,126.73 L288.00,127.13 L288.75,127.23 L289.50,127.30 L290.25,127.66 L291.00,127.65 L291.75,128.02 L292.50,127.74 L293.25,127.63 L294.00,127.47 L294.75,126.96 L295.50,127.35 L296.25,126.98 L297.00,127.41 L297.75,127.90 L298.50,127.56 L299.25,128.17 L300.00,127.83 L300.75,128.02 L301.50,128.50" fill="none" stroke="#f00a5a" stroke-width="1.9" stroke-linejoin="round" stroke-linecap="round"/>
<text x="253.2" y="46.5" font-size="10.2" fill="#6c0f36" stroke="#6c0f36" stroke-width="0.3" text-anchor="start">-100%</text>
<text x="253.2" y="59.8" font-size="10.2" fill="#c00a4a" stroke="#c00a4a" stroke-width="0.3" text-anchor="start">-50%</text>
<text x="253.2" y="73.1" font-size="10.2" fill="#f00a5a" stroke="#f00a5a" stroke-width="0.3" text-anchor="start">-25%</text>
<text x="251.6" y="86.4" font-size="10.2" fill="#f01870" stroke="#f01870" stroke-width="0.3" text-anchor="start">+25%</text>
<text x="251.6" y="99.7" font-size="10.2" fill="#f070a0" stroke="#f070a0" stroke-width="0.3" text-anchor="start">+50%</text>
<text x="251.6" y="113.0" font-size="10.2" fill="#f8aac9" stroke="#f8aac9" stroke-width="0.3" text-anchor="start">+100%</text>
<path d="M76.2,142.5 L76.2,162 L95.6,162" fill="none" stroke="#111" stroke-width="1.6"/>
<text x="71.8" y="150" font-size="10.5" fill="#000" stroke="#000" stroke-width="0.3" text-anchor="middle" transform="rotate(-90 71.8 150)">2 mV</text>
<text x="75.5" y="177.8" font-size="11" fill="#000" stroke="#000" stroke-width="0.3" text-anchor="start">0.1 s</text>
<text x="519.3" y="21.3" font-size="17.3" fill="#000" stroke="#000" stroke-width="0.3" text-anchor="middle">Periphery</text>
<line x1="470.2" y1="32" x2="565.2" y2="32" stroke="#000" stroke-width="1.6"/>
<path d="M421.60,130.91 L422.35,131.21 L423.10,130.45 L423.85,130.71 L424.60,132.13 L425.35,131.09 L426.10,129.75 L426.85,130.50 L427.60,130.85 L428.35,129.49 L429.10,130.22 L429.85,131.48 L430.60,130.84 L431.35,131.82 L432.10,132.13 L432.85,130.69 L433.60,130.67 L434.35,130.53 L435.10,130.10 L435.85,130.81 L436.60,130.92 L437.35,130.50 L438.10,131.61 L438.85,132.26 L439.60,131.83 L440.35,131.67 L441.10,131.51 L441.85,131.97 L442.60,131.72 L443.35,131.92 L444.10,131.45 L444.85,130.40 L445.60,130.18 L446.35,130.14 L447.10,131.09 L447.85,131.98 L448.60,131.39 L449.35,130.67 L450.10,130.82 L450.85,130.45 L451.60,130.04 L452.35,130.44 L453.10,130.16 L453.85,130.19 L454.60,131.07 L455.35,130.68 L456.10,130.17 L456.85,129.80 L457.60,131.24 L458.35,131.26 L459.10,131.11 L459.85,132.08 L460.60,131.12 L461.35,130.24 L462.10,130.94 L462.85,132.39 L463.60,131.40 L464.35,130.38 L465.10,131.38 L465.85,131.69 L466.60,132.17 L467.35,131.71 L468.10,130.99 L468.85,130.65 L469.60,131.42 L470.35,131.68 L471.10,129.53 L471.85,129.00 L472.60,124.83 L473.35,120.55 L474.10,115.01 L474.85,108.24 L475.60,102.83 L476.35,97.94 L477.10,92.40 L477.85,87.66 L478.60,83.95 L479.35,79.57 L480.10,75.90 L480.85,72.89 L481.60,69.49 L482.35,67.43 L483.10,64.78 L483.85,62.58 L484.60,61.82 L485.35,59.47 L486.10,57.06 L486.85,55.55 L487.60,54.80 L488.35,53.94 L489.10,52.49 L489.85,51.28 L490.60,49.57 L491.35,47.96 L492.10,46.30 L492.85,45.53 L493.60,45.48 L494.35,44.13 L495.10,43.90 L495.85,43.74 L496.60,41.13 L497.35,40.35 L498.10,40.80 L498.85,41.36 L499.60,43.55 L500.35,43.09 L501.10,42.28 L501.85,42.83 L502.60,43.37 L503.35,44.26 L504.10,45.26 L504.85,45.12 L505.60,46.23 L506.35,48.44 L507.10,49.83 L507.85,51.68 L508.60,52.43 L509.35,51.88 L510.10,51.76 L510.85,52.64 L511.60,53.63 L512.35,55.09 L513.10,55.11 L513.85,55.35 L514.60,56.82 L515.35,57.29 L516.10,57.53 L516.85,58.27 L517.60,58.51 L518.35,58.39 L519.10,58.62 L519.85,59.26 L520.60,58.19 L521.35,58.08 L522.10,59.05 L522.85,58.42 L523.60,58.21 L524.35,57.58 L525.10,58.05 L525.85,58.84 L526.60,59.49 L527.35,59.34 L528.10,60.07 L528.85,61.23 L529.60,60.68 L530.35,60.50 L531.10,60.54 L531.85,60.64 L532.60,61.08 L533.35,61.95 L534.10,62.44 L534.85,62.01 L535.60,62.24 L536.35,62.74 L537.10,63.18 L537.85,64.75 L538.60,65.14 L539.35,64.19 L540.10,63.20 L540.85,62.77 L541.60,62.85 L542.35,64.03 L543.10,64.60 L543.85,64.36 L544.60,64.53 L545.35,64.63 L546.10,65.73 L546.85,65.42 L547.60,64.63 L548.35,64.65 L549.10,65.34 L549.85,65.31 L550.60,64.39 L551.35,64.29 L552.10,64.24 L552.85,65.26 L553.60,67.33 L554.35,66.66 L555.10,65.91 L555.85,66.58 L556.60,65.59 L557.35,65.36 L558.10,65.84 L558.85,65.67 L559.60,66.79 L560.35,66.23 L561.10,65.51 L561.85,66.69 L562.60,66.29 L563.35,66.29 L564.10,67.13 L564.85,67.26 L565.60,67.18 L566.35,67.63 L567.10,66.61 L567.85,68.17 L568.60,76.88 L569.35,96.98 L570.10,121.00 L570.85,135.52 L571.60,145.14 L572.35,151.16 L573.10,154.86 L573.85,158.25 L574.60,160.21 L575.35,161.16 L576.10,161.18 L576.85,160.79 L577.60,160.87 L578.35,159.43 L579.10,157.59 L579.85,156.88 L580.60,154.52 L581.35,151.13 L582.10,149.38 L582.85,148.61 L583.60,148.40 L584.35,146.63 L585.10,144.00 L585.85,142.49 L586.60,142.35 L587.35,141.20 L588.10,140.62 L588.85,141.17 L589.60,139.99 L590.35,139.17 L591.10,139.12 L591.85,139.23 L592.60,138.03 L593.35,137.58 L594.10,137.67 L594.85,136.47 L595.60,136.51 L596.35,136.60 L597.10,135.88 L597.85,135.02 L598.60,134.90 L599.35,136.28 L600.10,137.61 L600.85,137.08 L601.60,136.57 L602.35,135.86 L603.10,135.10 L603.85,135.38 L604.60,134.76 L605.35,134.00 L606.10,134.47 L606.85,134.69 L607.60,134.00 L608.35,134.25 L609.10,134.56 L609.85,134.78 L610.60,134.83 L611.35,134.09 L612.10,134.09 L612.85,134.10 L613.60,133.65 L614.35,133.50 L615.10,134.19 L615.85,134.70 L616.60,134.97 L617.35,133.80 L618.10,132.97 L618.85,133.62 L619.60,133.91 L620.35,133.91 L621.10,133.58 L621.85,134.22 L622.60,134.59 L623.35,133.63 L624.10,134.23 L624.85,135.33 L625.60,134.40 L626.35,134.34 L627.10,134.27 L627.85,134.44 L628.60,134.71 L629.35,133.76 L630.10,133.70 L630.85,133.72 L631.60,134.01 L632.35,134.48 L633.10,134.40 L633.85,134.01 L634.60,132.13 L635.35,132.40 L636.10,133.23 L636.85,133.24 L637.60,134.69 L638.35,134.63 L639.10,133.79 L639.85,133.49 L640.60,133.54 L641.35,133.27 L642.10,132.97 L642.85,132.71 L643.60,133.53 L644.35,133.93 L645.10,133.76 L645.85,133.60 L646.60,133.12 L647.35,133.11 L648.10,133.27 L648.85,133.73 L649.60,133.58 L650.35,132.79 L651.10,132.24 L651.85,133.37 L652.60,133.59 L653.35,132.58 L654.10,133.42 L654.85,134.07 L655.60,133.57 L656.35,132.79 L657.10,133.67 L657.85,134.03 L658.60,133.09 L659.35,132.78 L660.10,131.76 L660.85,131.14" fill="none" stroke="#0e1b6e" stroke-width="1.9" stroke-linejoin="round" stroke-linecap="round"/>
<path d="M421.60,132.85 L422.35,131.14 L423.10,130.27 L423.85,128.84 L424.60,128.98 L425.35,130.61 L426.10,131.40 L426.85,131.79 L427.60,131.60 L428.35,131.40 L429.10,131.44 L429.85,132.05 L430.60,131.19 L431.35,130.24 L432.10,130.08 L432.85,131.12 L433.60,132.46 L434.35,132.02 L435.10,130.78 L435.85,130.49 L436.60,130.97 L437.35,130.92 L438.10,130.95 L438.85,131.17 L439.60,131.06 L440.35,131.23 L441.10,131.55 L441.85,130.97 L442.60,130.80 L443.35,130.72 L444.10,131.19 L444.85,131.27 L445.60,131.01 L446.35,130.95 L447.10,130.06 L447.85,130.71 L448.60,130.92 L449.35,130.81 L450.10,131.55 L450.85,130.38 L451.60,129.70 L452.35,130.27 L453.10,130.33 L453.85,130.00 L454.60,130.78 L455.35,131.25 L456.10,131.07 L456.85,130.98 L457.60,130.94 L458.35,130.78 L459.10,130.61 L459.85,131.28 L460.60,131.31 L461.35,130.79 L462.10,130.23 L462.85,130.54 L463.60,131.26 L464.35,131.04 L465.10,130.49 L465.85,130.89 L466.60,132.51 L467.35,132.09 L468.10,131.02 L468.85,131.36 L469.60,129.91 L470.35,129.78 L471.10,130.71 L471.85,131.34 L472.60,132.67 L473.35,135.22 L474.10,139.87 L474.85,144.38 L475.60,147.14 L476.35,150.02 L477.10,152.12 L477.85,153.41 L478.60,154.55 L479.35,155.54 L480.10,155.31 L480.85,154.21 L481.60,154.15 L482.35,154.19 L483.10,154.10 L483.85,153.80 L484.60,152.61 L485.35,151.94 L486.10,151.90 L486.85,151.75 L487.60,151.60 L488.35,150.89 L489.10,149.58 L489.85,149.48 L490.60,149.37 L491.35,149.59 L492.10,150.46 L492.85,149.45 L493.60,149.65 L494.35,150.79 L495.10,150.36 L495.85,150.63 L496.60,151.40 L497.35,149.84 L498.10,149.30 L498.85,150.01 L499.60,149.60 L500.35,149.74 L501.10,149.07 L501.85,148.20 L502.60,148.06 L503.35,147.88 L504.10,148.16 L504.85,147.73 L505.60,147.18 L506.35,148.12 L507.10,148.53 L507.85,148.37 L508.60,147.40 L509.35,146.75 L510.10,147.36 L510.85,147.72 L511.60,147.65 L512.35,148.05 L513.10,148.26 L513.85,147.76 L514.60,147.75 L515.35,148.06 L516.10,147.77 L516.85,147.94 L517.60,148.37 L518.35,147.85 L519.10,147.61 L519.85,147.76 L520.60,148.21 L521.35,148.39 L522.10,148.04 L522.85,147.97 L523.60,147.81 L524.35,147.97 L525.10,147.86 L525.85,146.17 L526.60,146.82 L527.35,147.88 L528.10,146.59 L528.85,146.40 L529.60,146.51 L530.35,147.63 L531.10,148.28 L531.85,146.41 L532.60,146.39 L533.35,146.93 L534.10,147.58 L534.85,147.20 L535.60,145.08 L536.35,145.59 L537.10,146.48 L537.85,146.19 L538.60,145.23 L539.35,145.60 L540.10,147.44 L540.85,146.21 L541.60,145.90 L542.35,146.52 L543.10,147.05 L543.85,147.50 L544.60,146.17 L545.35,146.45 L546.10,146.76 L546.85,145.85 L547.60,145.89 L548.35,145.87 L549.10,144.56 L549.85,145.76 L550.60,146.41 L551.35,145.02 L552.10,145.28 L552.85,144.72 L553.60,143.78 L554.35,144.22 L555.10,144.53 L555.85,144.70 L556.60,145.40 L557.35,145.00 L558.10,144.55 L558.85,144.94 L559.60,143.99 L560.35,143.63 L561.10,143.52 L561.85,143.75 L562.60,144.24 L563.35,143.50 L564.10,142.37 L564.85,142.18 L565.60,142.20 L566.35,142.22 L567.10,142.24 L567.85,140.41 L568.60,139.03 L569.35,137.59 L570.10,134.82 L570.85,133.10 L571.60,131.33 L572.35,128.95 L573.10,127.55 L573.85,125.78 L574.60,124.13 L575.35,123.33 L576.10,123.61 L576.85,123.94 L577.60,122.60 L578.35,122.34 L579.10,122.29 L579.85,121.71 L580.60,122.37 L581.35,122.63 L582.10,123.78 L582.85,124.18 L583.60,122.81 L584.35,123.75 L585.10,124.49 L585.85,124.01 L586.60,123.07 L587.35,124.08 L588.10,126.35 L588.85,126.61 L589.60,127.04 L590.35,127.83 L591.10,127.65 L591.85,127.57 L592.60,127.50 L593.35,127.09 L594.10,128.18 L594.85,128.70 L595.60,127.62 L596.35,127.71 L597.10,128.38 L597.85,127.89 L598.60,128.29 L599.35,128.59 L600.10,127.67 L600.85,127.40 L601.60,129.15 L602.35,129.02 L603.10,128.32 L603.85,129.46 L604.60,129.73 L605.35,128.88 L606.10,128.46 L606.85,129.20 L607.60,129.82 L608.35,129.48 L609.10,128.55 L609.85,129.42 L610.60,130.60 L611.35,130.33 L612.10,129.51 L612.85,129.57 L613.60,129.97 L614.35,130.23 L615.10,129.58 L615.85,129.26 L616.60,129.84 L617.35,129.26 L618.10,129.48 L618.85,130.08 L619.60,129.80 L620.35,130.01 L621.10,129.53 L621.85,129.33 L622.60,130.29 L623.35,130.48 L624.10,130.83 L624.85,130.11 L625.60,128.84 L626.35,129.59 L627.10,130.59 L627.85,131.55 L628.60,131.66 L629.35,130.18 L630.10,130.30 L630.85,130.33 L631.60,129.20 L632.35,130.95 L633.10,131.88 L633.85,130.95 L634.60,131.08 L635.35,131.65 L636.10,131.53 L636.85,131.25 L637.60,130.61 L638.35,129.32 L639.10,130.56 L639.85,132.01 L640.60,131.57 L641.35,130.96 L642.10,130.80 L642.85,130.36 L643.60,131.06 L644.35,131.75 L645.10,131.25 L645.85,131.12 L646.60,131.41 L647.35,131.49 L648.10,131.35 L648.85,130.53 L649.60,130.43 L650.35,132.12 L651.10,131.62 L651.85,130.48 L652.60,131.20 L653.35,131.76 L654.10,131.64 L654.85,130.36 L655.60,130.32 L656.35,130.55 L657.10,129.91 L657.85,130.79 L658.60,131.07 L659.35,131.22 L660.10,132.96 L660.85,132.96" fill="none" stroke="#c4d2f8" stroke-width="1.9" stroke-linejoin="round" stroke-linecap="round"/>
<path d="M421.60,129.61 L422.35,130.55 L423.10,131.26 L423.85,131.54 L424.60,132.04 L425.35,131.35 L426.10,131.16 L426.85,130.61 L427.60,131.42 L428.35,132.74 L429.10,131.49 L429.85,130.31 L430.60,130.61 L431.35,130.25 L432.10,129.68 L432.85,130.98 L433.60,131.41 L434.35,130.79 L435.10,131.23 L435.85,130.96 L436.60,130.62 L437.35,130.89 L438.10,130.33 L438.85,130.81 L439.60,130.74 L440.35,131.45 L441.10,131.66 L441.85,131.70 L442.60,131.45 L443.35,130.76 L444.10,130.70 L444.85,129.73 L445.60,130.41 L446.35,131.42 L447.10,130.70 L447.85,130.95 L448.60,131.19 L449.35,130.67 L450.10,131.26 L450.85,131.49 L451.60,130.40 L452.35,130.91 L453.10,132.09 L453.85,131.07 L454.60,130.28 L455.35,129.64 L456.10,129.47 L456.85,130.59 L457.60,131.10 L458.35,130.26 L459.10,130.17 L459.85,131.52 L460.60,131.62 L461.35,130.54 L462.10,131.38 L462.85,131.91 L463.60,131.25 L464.35,130.72 L465.10,129.92 L465.85,129.64 L466.60,130.17 L467.35,130.65 L468.10,131.07 L468.85,131.45 L469.60,131.39 L470.35,131.22 L471.10,130.61 L471.85,129.42 L472.60,130.40 L473.35,133.42 L474.10,136.36 L474.85,139.20 L475.60,140.49 L476.35,141.59 L477.10,143.38 L477.85,144.66 L478.60,144.42 L479.35,144.57 L480.10,144.70 L480.85,143.83 L481.60,143.83 L482.35,145.12 L483.10,144.60 L483.85,144.05 L484.60,144.89 L485.35,144.87 L486.10,143.58 L486.85,143.66 L487.60,143.96 L488.35,142.68 L489.10,142.38 L489.85,142.70 L490.60,142.76 L491.35,142.30 L492.10,142.84 L492.85,142.50 L493.60,141.27 L494.35,141.97 L495.10,142.78 L495.85,142.87 L496.60,141.93 L497.35,141.87 L498.10,142.59 L498.85,142.89 L499.60,141.97 L500.35,141.15 L501.10,141.59 L501.85,140.64 L502.60,140.38 L503.35,141.69 L504.10,141.77 L504.85,140.80 L505.60,141.42 L506.35,142.23 L507.10,142.24 L507.85,141.31 L508.60,140.74 L509.35,141.60 L510.10,141.26 L510.85,140.32 L511.60,141.02 L512.35,142.14 L513.10,141.11 L513.85,138.99 L514.60,138.80 L515.35,139.55 L516.10,140.17 L516.85,140.95 L517.60,140.90 L518.35,140.21 L519.10,140.32 L519.85,140.16 L520.60,140.02 L521.35,140.14 L522.10,141.47 L522.85,142.17 L523.60,140.37 L524.35,139.43 L525.10,139.59 L525.85,139.23 L526.60,139.05 L527.35,139.46 L528.10,140.23 L528.85,140.35 L529.60,139.47 L530.35,138.97 L531.10,138.74 L531.85,139.33 L532.60,139.77 L533.35,140.32 L534.10,140.07 L534.85,139.98 L535.60,140.38 L536.35,139.79 L537.10,138.61 L537.85,137.91 L538.60,139.23 L539.35,140.52 L540.10,140.19 L540.85,139.82 L541.60,139.46 L542.35,138.83 L543.10,138.65 L543.85,139.27 L544.60,139.72 L545.35,139.07 L546.10,138.68 L546.85,139.02 L547.60,139.29 L548.35,138.54 L549.10,139.18 L549.85,139.67 L550.60,138.75 L551.35,139.30 L552.10,139.74 L552.85,138.88 L553.60,138.56 L554.35,137.99 L555.10,137.32 L555.85,136.64 L556.60,137.47 L557.35,137.55 L558.10,137.17 L558.85,137.59 L559.60,136.64 L560.35,136.83 L561.10,137.32 L561.85,137.58 L562.60,138.18 L563.35,137.89 L564.10,137.27 L564.85,136.61 L565.60,136.34 L566.35,136.52 L567.10,135.71 L567.85,135.13 L568.60,134.60 L569.35,133.86 L570.10,133.17 L570.85,131.70 L571.60,129.93 L572.35,129.57 L573.10,128.14 L573.85,126.53 L574.60,127.29 L575.35,125.49 L576.10,123.77 L576.85,125.05 L577.60,124.32 L578.35,125.05 L579.10,124.39 L579.85,123.64 L580.60,125.59 L581.35,125.26 L582.10,124.35 L582.85,124.14 L583.60,123.97 L584.35,124.45 L585.10,124.65 L585.85,124.46 L586.60,125.89 L587.35,125.85 L588.10,125.54 L588.85,126.50 L589.60,126.29 L590.35,127.01 L591.10,128.05 L591.85,126.91 L592.60,126.92 L593.35,127.49 L594.10,127.38 L594.85,128.00 L595.60,128.17 L596.35,128.79 L597.10,128.97 L597.85,129.15 L598.60,129.64 L599.35,129.72 L600.10,129.61 L600.85,129.05 L601.60,128.86 L602.35,129.50 L603.10,130.63 L603.85,131.46 L604.60,131.69 L605.35,130.78 L606.10,130.06 L606.85,130.16 L607.60,130.28 L608.35,130.84 L609.10,131.35 L609.85,130.23 L610.60,129.43 L611.35,130.56 L612.10,131.08 L612.85,130.30 L613.60,130.76 L614.35,130.70 L615.10,129.99 L615.85,129.97 L616.60,129.15 L617.35,129.83 L618.10,130.22 L618.85,129.52 L619.60,129.77 L620.35,130.44 L621.10,130.79 L621.85,130.45 L622.60,129.66 L623.35,129.62 L624.10,129.74 L624.85,129.95 L625.60,130.88 L626.35,130.73 L627.10,131.58 L627.85,131.86 L628.60,131.15 L629.35,130.97 L630.10,130.59 L630.85,131.01 L631.60,131.66 L632.35,130.54 L633.10,130.53 L633.85,131.44 L634.60,131.41 L635.35,131.39 L636.10,130.30 L636.85,129.49 L637.60,131.03 L638.35,131.75 L639.10,130.14 L639.85,130.19 L640.60,130.73 L641.35,129.64 L642.10,128.69 L642.85,128.81 L643.60,130.10 L644.35,130.89 L645.10,130.64 L645.85,130.81 L646.60,131.24 L647.35,130.06 L648.10,129.62 L648.85,130.26 L649.60,129.81 L650.35,129.95 L651.10,130.52 L651.85,130.67 L652.60,130.01 L653.35,129.91 L654.10,131.66 L654.85,131.38 L655.60,129.54 L656.35,130.22 L657.10,131.37 L657.85,131.48 L658.60,130.63 L659.35,130.91 L660.10,131.09 L660.85,130.04" fill="none" stroke="#7f9cf0" stroke-width="1.9" stroke-linejoin="round" stroke-linecap="round"/>
<path d="M421.60,130.60 L422.35,130.69 L423.10,130.15 L423.85,130.80 L424.60,130.71 L425.35,130.53 L426.10,131.47 L426.85,130.43 L427.60,130.18 L428.35,132.59 L429.10,132.16 L429.85,131.00 L430.60,131.35 L431.35,132.28 L432.10,131.32 L432.85,130.45 L433.60,130.95 L434.35,131.19 L435.10,131.36 L435.85,131.41 L436.60,131.12 L437.35,130.81 L438.10,130.69 L438.85,130.33 L439.60,130.60 L440.35,130.86 L441.10,130.34 L441.85,131.20 L442.60,131.72 L443.35,130.24 L444.10,130.86 L444.85,131.18 L445.60,130.88 L446.35,131.25 L447.10,131.12 L447.85,131.21 L448.60,130.80 L449.35,130.73 L450.10,132.04 L450.85,130.90 L451.60,129.91 L452.35,131.25 L453.10,130.69 L453.85,129.79 L454.60,131.39 L455.35,131.89 L456.10,131.85 L456.85,132.31 L457.60,131.31 L458.35,131.28 L459.10,131.56 L459.85,131.91 L460.60,131.81 L461.35,131.29 L462.10,131.16 L462.85,131.76 L463.60,132.08 L464.35,130.91 L465.10,130.18 L465.85,130.85 L466.60,130.85 L467.35,130.50 L468.10,130.33 L468.85,130.39 L469.60,131.08 L470.35,131.71 L471.10,131.50 L471.85,132.04 L472.60,130.51 L473.35,126.87 L474.10,123.73 L474.85,119.74 L475.60,116.57 L476.35,112.82 L477.10,111.31 L477.85,111.31 L478.60,111.00 L479.35,109.22 L480.10,108.73 L480.85,109.08 L481.60,108.30 L482.35,107.00 L483.10,106.57 L483.85,107.56 L484.60,107.75 L485.35,107.92 L486.10,106.98 L486.85,107.42 L487.60,108.45 L488.35,108.50 L489.10,108.97 L489.85,109.60 L490.60,109.51 L491.35,108.73 L492.10,108.52 L492.85,110.33 L493.60,111.81 L494.35,111.57 L495.10,111.33 L495.85,111.55 L496.60,112.05 L497.35,112.14 L498.10,112.05 L498.85,113.55 L499.60,114.24 L500.35,113.05 L501.10,112.43 L501.85,112.46 L502.60,113.50 L503.35,114.22 L504.10,113.70 L504.85,113.29 L505.60,113.17 L506.35,112.51 L507.10,113.23 L507.85,113.91 L508.60,114.45 L509.35,113.86 L510.10,112.55 L510.85,113.38 L511.60,113.34 L512.35,112.22 L513.10,111.89 L513.85,112.65 L514.60,113.33 L515.35,113.26 L516.10,113.62 L516.85,114.20 L517.60,113.90 L518.35,113.45 L519.10,113.21 L519.85,113.51 L520.60,114.14 L521.35,113.94 L522.10,113.75 L522.85,113.60 L523.60,112.71 L524.35,112.42 L525.10,113.55 L525.85,114.31 L526.60,114.76 L527.35,114.61 L528.10,114.28 L528.85,114.95 L529.60,115.04 L530.35,114.11 L531.10,113.54 L531.85,113.93 L532.60,113.55 L533.35,113.73 L534.10,114.75 L534.85,114.27 L535.60,114.75 L536.35,114.84 L537.10,113.75 L537.85,113.78 L538.60,113.53 L539.35,113.85 L540.10,114.22 L540.85,114.84 L541.60,115.13 L542.35,114.57 L543.10,114.16 L543.85,113.18 L544.60,113.25 L545.35,113.53 L546.10,114.05 L546.85,114.46 L547.60,114.82 L548.35,115.20 L549.10,114.79 L549.85,114.53 L550.60,114.22 L551.35,114.43 L552.10,114.79 L552.85,114.11 L553.60,113.89 L554.35,115.56 L555.10,115.27 L555.85,113.83 L556.60,113.53 L557.35,112.93 L558.10,113.87 L558.85,114.62 L559.60,114.18 L560.35,115.07 L561.10,116.18 L561.85,114.81 L562.60,114.08 L563.35,114.84 L564.10,114.51 L564.85,114.44 L565.60,114.23 L566.35,114.78 L567.10,115.12 L567.85,115.39 L568.60,117.67 L569.35,120.53 L570.10,124.46 L570.85,129.71 L571.60,133.11 L572.35,135.17 L573.10,135.30 L573.85,135.20 L574.60,135.53 L575.35,135.72 L576.10,136.03 L576.85,136.61 L577.60,135.36 L578.35,134.99 L579.10,136.04 L579.85,135.78 L580.60,134.65 L581.35,134.89 L582.10,134.76 L582.85,133.25 L583.60,132.80 L584.35,133.13 L585.10,133.89 L585.85,134.21 L586.60,133.57 L587.35,132.14 L588.10,131.49 L588.85,131.45 L589.60,131.53 L590.35,130.97 L591.10,131.00 L591.85,132.10 L592.60,131.86 L593.35,131.67 L594.10,131.18 L594.85,130.13 L595.60,130.20 L596.35,131.43 L597.10,132.21 L597.85,131.35 L598.60,131.40 L599.35,131.45 L600.10,131.59 L600.85,132.00 L601.60,131.02 L602.35,131.17 L603.10,131.01 L603.85,130.15 L604.60,129.81 L605.35,130.40 L606.10,131.10 L606.85,130.93 L607.60,130.76 L608.35,131.51 L609.10,131.51 L609.85,130.43 L610.60,131.26 L611.35,132.33 L612.10,131.88 L612.85,130.30 L613.60,129.83 L614.35,131.01 L615.10,131.32 L615.85,131.79 L616.60,131.09 L617.35,130.66 L618.10,131.03 L618.85,131.35 L619.60,131.62 L620.35,131.48 L621.10,131.19 L621.85,129.97 L622.60,129.74 L623.35,130.14 L624.10,130.18 L624.85,131.09 L625.60,132.27 L626.35,131.81 L627.10,130.62 L627.85,130.42 L628.60,130.60 L629.35,131.38 L630.10,131.89 L630.85,131.40 L631.60,131.04 L632.35,129.79 L633.10,129.61 L633.85,130.06 L634.60,130.63 L635.35,131.23 L636.10,130.65 L636.85,130.40 L637.60,131.59 L638.35,131.30 L639.10,130.06 L639.85,130.43 L640.60,130.54 L641.35,130.44 L642.10,131.05 L642.85,132.13 L643.60,130.98 L644.35,130.10 L645.10,131.01 L645.85,130.98 L646.60,130.86 L647.35,130.74 L648.10,131.33 L648.85,131.27 L649.60,130.70 L650.35,130.94 L651.10,131.05 L651.85,130.97 L652.60,131.41 L653.35,131.50 L654.10,131.08 L654.85,131.06 L655.60,130.47 L656.35,130.08 L657.10,130.06 L657.85,130.57 L658.60,130.74 L659.35,130.11 L660.10,130.59 L660.85,131.38" fill="none" stroke="#1b34c8" stroke-width="1.9" stroke-linejoin="round" stroke-linecap="round"/>
<path d="M421.60,131.37 L422.35,130.89 L423.10,130.41 L423.85,131.14 L424.60,132.39 L425.35,131.75 L426.10,130.53 L426.85,131.31 L427.60,131.37 L428.35,130.44 L429.10,130.60 L429.85,131.26 L430.60,131.28 L431.35,131.79 L432.10,132.07 L432.85,131.71 L433.60,131.36 L434.35,130.61 L435.10,130.38 L435.85,131.04 L436.60,130.91 L437.35,130.85 L438.10,130.64 L438.85,131.35 L439.60,132.84 L440.35,131.88 L441.10,131.01 L441.85,131.08 L442.60,131.51 L443.35,131.85 L444.10,131.26 L444.85,130.93 L445.60,130.95 L446.35,130.56 L447.10,130.84 L447.85,130.98 L448.60,130.91 L449.35,131.33 L450.10,131.61 L450.85,131.54 L451.60,131.50 L452.35,131.05 L453.10,130.84 L453.85,131.19 L454.60,130.99 L455.35,131.13 L456.10,131.50 L456.85,130.46 L457.60,130.15 L458.35,130.41 L459.10,130.86 L459.85,130.62 L460.60,129.51 L461.35,129.66 L462.10,130.98 L462.85,131.18 L463.60,130.41 L464.35,130.79 L465.10,129.83 L465.85,129.93 L466.60,131.16 L467.35,131.24 L468.10,131.38 L468.85,131.29 L469.60,130.82 L470.35,130.81 L471.10,130.98 L471.85,132.12 L472.60,132.52 L473.35,132.92 L474.10,133.95 L474.85,134.67 L475.60,136.34 L476.35,136.75 L477.10,136.06 L477.85,136.95 L478.60,137.41 L479.35,138.46 L480.10,137.49 L480.85,136.69 L481.60,138.23 L482.35,137.48 L483.10,136.79 L483.85,137.55 L484.60,138.68 L485.35,137.99 L486.10,136.37 L486.85,137.30 L487.60,138.83 L488.35,138.16 L489.10,136.27 L489.85,137.14 L490.60,138.12 L491.35,137.93 L492.10,137.98 L492.85,137.21 L493.60,136.98 L494.35,137.87 L495.10,138.79 L495.85,136.95 L496.60,135.74 L497.35,137.67 L498.10,137.92 L498.85,136.32 L499.60,136.47 L500.35,137.07 L501.10,136.99 L501.85,136.77 L502.60,136.63 L503.35,136.61 L504.10,136.90 L504.85,136.69 L505.60,136.35 L506.35,136.65 L507.10,137.42 L507.85,137.65 L508.60,136.91 L509.35,136.96 L510.10,137.18 L510.85,137.43 L511.60,137.44 L512.35,137.76 L513.10,138.14 L513.85,137.19 L514.60,136.27 L515.35,136.70 L516.10,137.12 L516.85,136.60 L517.60,135.56 L518.35,134.65 L519.10,135.52 L519.85,136.78 L520.60,136.96 L521.35,135.89 L522.10,135.97 L522.85,136.30 L523.60,135.93 L524.35,136.36 L525.10,135.72 L525.85,135.17 L526.60,134.49 L527.35,134.28 L528.10,134.37 L528.85,135.00 L529.60,135.89 L530.35,136.08 L531.10,136.18 L531.85,135.36 L532.60,135.31 L533.35,135.38 L534.10,135.47 L534.85,135.78 L535.60,134.93 L536.35,134.73 L537.10,135.20 L537.85,135.00 L538.60,135.38 L539.35,136.34 L540.10,135.67 L540.85,134.59 L541.60,133.61 L542.35,133.69 L543.10,134.56 L543.85,133.51 L544.60,133.84 L545.35,135.18 L546.10,134.64 L546.85,134.14 L547.60,133.99 L548.35,134.53 L549.10,134.23 L549.85,133.67 L550.60,135.37 L551.35,135.53 L552.10,134.76 L552.85,134.63 L553.60,133.77 L554.35,133.80 L555.10,134.55 L555.85,134.02 L556.60,133.95 L557.35,135.04 L558.10,135.35 L558.85,133.89 L559.60,132.81 L560.35,132.74 L561.10,133.70 L561.85,134.75 L562.60,134.49 L563.35,133.67 L564.10,132.65 L564.85,133.04 L565.60,133.58 L566.35,133.02 L567.10,132.93 L567.85,133.40 L568.60,132.97 L569.35,131.57 L570.10,129.85 L570.85,129.62 L571.60,130.06 L572.35,129.40 L573.10,128.60 L573.85,127.96 L574.60,128.12 L575.35,128.05 L576.10,127.43 L576.85,126.73 L577.60,126.22 L578.35,126.77 L579.10,126.60 L579.85,125.92 L580.60,126.30 L581.35,127.59 L582.10,127.91 L582.85,128.11 L583.60,128.03 L584.35,127.22 L585.10,126.66 L585.85,126.61 L586.60,128.13 L587.35,128.69 L588.10,128.47 L588.85,128.81 L589.60,128.58 L590.35,128.29 L591.10,128.51 L591.85,129.12 L592.60,129.45 L593.35,129.52 L594.10,129.52 L594.85,129.04 L595.60,128.97 L596.35,129.02 L597.10,129.76 L597.85,129.28 L598.60,128.75 L599.35,131.05 L600.10,131.03 L600.85,129.29 L601.60,129.48 L602.35,130.72 L603.10,130.67 L603.85,130.36 L604.60,130.51 L605.35,130.04 L606.10,131.58 L606.85,131.83 L607.60,130.00 L608.35,129.74 L609.10,130.22 L609.85,130.69 L610.60,130.90 L611.35,130.79 L612.10,129.70 L612.85,129.92 L613.60,130.49 L614.35,130.10 L615.10,129.53 L615.85,129.40 L616.60,129.79 L617.35,130.07 L618.10,129.73 L618.85,129.78 L619.60,130.58 L620.35,130.01 L621.10,129.65 L621.85,129.79 L622.60,130.57 L623.35,129.74 L624.10,129.13 L624.85,129.57 L625.60,129.54 L626.35,130.80 L627.10,130.71 L627.85,130.37 L628.60,130.27 L629.35,131.18 L630.10,132.07 L630.85,131.67 L631.60,130.56 L632.35,129.45 L633.10,130.67 L633.85,131.13 L634.60,130.47 L635.35,130.74 L636.10,130.25 L636.85,130.47 L637.60,131.12 L638.35,130.98 L639.10,130.64 L639.85,130.67 L640.60,130.66 L641.35,130.89 L642.10,131.81 L642.85,131.80 L643.60,131.50 L644.35,131.37 L645.10,129.76 L645.85,129.87 L646.60,131.09 L647.35,130.73 L648.10,130.74 L648.85,130.00 L649.60,129.88 L650.35,130.92 L651.10,131.90 L651.85,131.27 L652.60,130.12 L653.35,131.16 L654.10,131.18 L654.85,131.51 L655.60,131.98 L656.35,130.51 L657.10,130.99 L657.85,132.29 L658.60,131.09 L659.35,131.04 L660.10,131.62 L660.85,131.60" fill="none" stroke="#3565ec" stroke-width="1.9" stroke-linejoin="round" stroke-linecap="round"/>
<path d="M421.60,130.44 L422.35,130.45 L423.10,129.59 L423.85,129.82 L424.60,131.07 L425.35,132.27 L426.10,132.66 L426.85,131.14 L427.60,131.04 L428.35,130.67 L429.10,130.09 L429.85,129.76 L430.60,130.78 L431.35,132.01 L432.10,130.71 L432.85,130.38 L433.60,131.44 L434.35,131.72 L435.10,131.44 L435.85,130.76 L436.60,130.25 L437.35,130.73 L438.10,131.51 L438.85,131.05 L439.60,130.02 L440.35,131.01 L441.10,131.11 L441.85,131.07 L442.60,131.66 L443.35,131.56 L444.10,132.31 L444.85,132.22 L445.60,131.73 L446.35,130.93 L447.10,130.19 L447.85,130.97 L448.60,132.09 L449.35,132.46 L450.10,132.85 L450.85,132.31 L451.60,131.26 L452.35,131.60 L453.10,131.51 L453.85,130.98 L454.60,130.45 L455.35,130.97 L456.10,130.96 L456.85,130.72 L457.60,130.55 L458.35,130.84 L459.10,131.03 L459.85,130.91 L460.60,130.63 L461.35,129.99 L462.10,131.37 L462.85,131.19 L463.60,130.63 L464.35,130.79 L465.10,129.61 L465.85,130.00 L466.60,131.37 L467.35,130.66 L468.10,130.73 L468.85,130.89 L469.60,130.10 L470.35,130.50 L471.10,130.66 L471.85,131.81 L472.60,130.98 L473.35,128.94 L474.10,128.57 L474.85,125.73 L475.60,123.30 L476.35,123.52 L477.10,123.14 L477.85,122.10 L478.60,122.05 L479.35,120.93 L480.10,119.21 L480.85,117.44 L481.60,117.54 L482.35,118.06 L483.10,117.99 L483.85,118.68 L484.60,118.07 L485.35,119.17 L486.10,120.84 L486.85,120.88 L487.60,120.24 L488.35,120.10 L489.10,120.86 L489.85,121.23 L490.60,121.20 L491.35,121.81 L492.10,122.67 L492.85,122.81 L493.60,122.61 L494.35,123.24 L495.10,123.75 L495.85,121.88 L496.60,121.61 L497.35,123.08 L498.10,124.00 L498.85,123.99 L499.60,123.48 L500.35,123.38 L501.10,123.90 L501.85,124.06 L502.60,123.46 L503.35,123.33 L504.10,123.88 L504.85,123.87 L505.60,122.58 L506.35,122.93 L507.10,123.19 L507.85,122.86 L508.60,123.24 L509.35,123.59 L510.10,123.93 L510.85,123.05 L511.60,122.46 L512.35,122.12 L513.10,123.07 L513.85,123.97 L514.60,123.86 L515.35,123.52 L516.10,121.85 L516.85,122.82 L517.60,123.95 L518.35,123.30 L519.10,123.34 L519.85,123.65 L520.60,123.95 L521.35,122.90 L522.10,123.24 L522.85,123.83 L523.60,123.11 L524.35,124.30 L525.10,125.05 L525.85,124.08 L526.60,122.75 L527.35,123.05 L528.10,124.30 L528.85,124.22 L529.60,123.37 L530.35,123.06 L531.10,123.09 L531.85,123.62 L532.60,124.68 L533.35,125.11 L534.10,124.34 L534.85,123.95 L535.60,124.59 L536.35,124.21 L537.10,123.84 L537.85,125.14 L538.60,125.29 L539.35,124.63 L540.10,124.27 L540.85,123.81 L541.60,123.12 L542.35,123.04 L543.10,124.44 L543.85,125.44 L544.60,125.39 L545.35,124.62 L546.10,123.99 L546.85,123.28 L547.60,123.11 L548.35,123.65 L549.10,123.28 L549.85,123.38 L550.60,123.22 L551.35,121.81 L552.10,121.74 L552.85,121.74 L553.60,121.51 L554.35,122.86 L555.10,123.41 L555.85,122.91 L556.60,123.56 L557.35,124.05 L558.10,123.20 L558.85,123.22 L559.60,123.66 L560.35,123.00 L561.10,123.11 L561.85,122.55 L562.60,122.15 L563.35,123.08 L564.10,124.10 L564.85,124.33 L565.60,124.35 L566.35,125.44 L567.10,126.65 L567.85,127.24 L568.60,128.11 L569.35,128.57 L570.10,128.77 L570.85,129.89 L571.60,130.43 L572.35,130.54 L573.10,131.98 L573.85,132.49 L574.60,131.39 L575.35,131.75 L576.10,133.10 L576.85,132.79 L577.60,132.34 L578.35,131.93 L579.10,130.91 L579.85,130.63 L580.60,130.69 L581.35,131.87 L582.10,131.34 L582.85,131.24 L583.60,131.31 L584.35,130.38 L585.10,131.30 L585.85,131.73 L586.60,131.46 L587.35,130.32 L588.10,130.36 L588.85,130.67 L589.60,131.77 L590.35,132.18 L591.10,130.99 L591.85,130.52 L592.60,130.19 L593.35,130.12 L594.10,130.85 L594.85,131.36 L595.60,131.15 L596.35,130.94 L597.10,130.41 L597.85,131.39 L598.60,131.16 L599.35,129.61 L600.10,130.30 L600.85,130.63 L601.60,130.21 L602.35,131.24 L603.10,131.05 L603.85,131.03 L604.60,131.10 L605.35,131.40 L606.10,132.41 L606.85,131.43 L607.60,130.66 L608.35,130.48 L609.10,130.68 L609.85,131.67 L610.60,130.85 L611.35,130.74 L612.10,130.80 L612.85,129.91 L613.60,129.68 L614.35,131.16 L615.10,132.08 L615.85,131.15 L616.60,130.78 L617.35,131.20 L618.10,130.48 L618.85,129.96 L619.60,132.12 L620.35,131.91 L621.10,130.82 L621.85,131.34 L622.60,130.93 L623.35,130.61 L624.10,131.49 L624.85,131.58 L625.60,131.28 L626.35,131.01 L627.10,130.98 L627.85,131.19 L628.60,131.76 L629.35,132.09 L630.10,131.24 L630.85,129.65 L631.60,130.13 L632.35,131.74 L633.10,130.92 L633.85,129.54 L634.60,129.43 L635.35,130.89 L636.10,130.93 L636.85,130.24 L637.60,130.88 L638.35,131.72 L639.10,131.60 L639.85,130.94 L640.60,130.68 L641.35,131.54 L642.10,132.35 L642.85,131.49 L643.60,130.25 L644.35,129.91 L645.10,130.89 L645.85,130.93 L646.60,131.09 L647.35,131.63 L648.10,131.33 L648.85,131.47 L649.60,131.58 L650.35,130.82 L651.10,130.41 L651.85,132.01 L652.60,131.57 L653.35,130.16 L654.10,131.30 L654.85,131.45 L655.60,130.51 L656.35,129.93 L657.10,130.61 L657.85,131.78 L658.60,132.21 L659.35,131.73 L660.10,131.55 L660.85,131.01" fill="none" stroke="#0f3ee8" stroke-width="1.9" stroke-linejoin="round" stroke-linecap="round"/>
<text x="620.2" y="45.8" font-size="10.2" fill="#0e1b6e" stroke="#0e1b6e" stroke-width="0.3" text-anchor="start">-100%</text>
<text x="620.2" y="59.099999999999994" font-size="10.2" fill="#1b34c8" stroke="#1b34c8" stroke-width="0.3" text-anchor="start">-50%</text>
<text x="620.2" y="72.4" font-size="10.2" fill="#0f3ee8" stroke="#0f3ee8" stroke-width="0.3" text-anchor="start">-25%</text>
<text x="618.6" y="85.7" font-size="10.2" fill="#3565ec" stroke="#3565ec" stroke-width="0.3" text-anchor="start">+25%</text>
<text x="618.6" y="99.0" font-size="10.2" fill="#7f9cf0" stroke="#7f9cf0" stroke-width="0.3" text-anchor="start">+50%</text>
<text x="618.6" y="112.3" font-size="10.2" fill="#c4d2f8" stroke="#c4d2f8" stroke-width="0.3" text-anchor="start">+100%</text>
<path d="M426.3,149.4 L426.3,163.6 L444.9,163.6" fill="none" stroke="#111" stroke-width="1.6"/>
<text x="423.2" y="152" font-size="10.5" fill="#000" stroke="#000" stroke-width="0.3" text-anchor="middle" transform="rotate(-90 423.2 152)">2 mV</text>
<text x="427.3" y="178.2" font-size="11" fill="#000" stroke="#000" stroke-width="0.3" text-anchor="start">0.1 s</text>
<path d="M80.6,273.4 L80.6,418.8 L285.8,418.8" fill="none" stroke="#111" stroke-width="1.6"/>
<line x1="71" y1="274.1" x2="80.6" y2="274.1" stroke="#000" stroke-width="1.6"/>
<text x="66.6" y="280.0" font-size="16.6" fill="#000" stroke="#000" stroke-width="0.3" text-anchor="end">1.0</text>
<line x1="71" y1="320.7" x2="80.6" y2="320.7" stroke="#000" stroke-width="1.6"/>
<text x="66.6" y="326.59999999999997" font-size="16.6" fill="#000" stroke="#000" stroke-width="0.3" text-anchor="end">0.5</text>
<line x1="71" y1="367.3" x2="80.6" y2="367.3" stroke="#000" stroke-width="1.6"/>
<text x="66.6" y="373.2" font-size="16.6" fill="#000" stroke="#000" stroke-width="0.3" text-anchor="end">0.0</text>
<line x1="71" y1="413.90000000000003" x2="80.6" y2="413.90000000000003" stroke="#000" stroke-width="1.6"/>
<text x="66.6" y="419.8" font-size="16.6" fill="#000" stroke="#000" stroke-width="0.3" text-anchor="end">-0.5</text>
<line x1="86.10000000000001" y1="418.8" x2="86.10000000000001" y2="428.4" stroke="#000" stroke-width="1.6"/>
<text x="86.10000000000001" y="450.3" font-size="16.8" fill="#000" stroke="#000" stroke-width="0.3" text-anchor="middle">-100</text>
<line x1="134.8" y1="418.8" x2="134.8" y2="428.4" stroke="#000" stroke-width="1.6"/>
<text x="134.8" y="450.3" font-size="16.8" fill="#000" stroke="#000" stroke-width="0.3" text-anchor="middle">-50</text>
<line x1="183.5" y1="418.8" x2="183.5" y2="428.4" stroke="#000" stroke-width="1.6"/>
<text x="183.5" y="450.3" font-size="16.8" fill="#000" stroke="#000" stroke-width="0.3" text-anchor="middle">0</text>
<line x1="232.2" y1="418.8" x2="232.2" y2="428.4" stroke="#000" stroke-width="1.6"/>
<text x="232.2" y="450.3" font-size="16.8" fill="#000" stroke="#000" stroke-width="0.3" text-anchor="middle">50</text>
<line x1="280.9" y1="418.8" x2="280.9" y2="428.4" stroke="#000" stroke-width="1.6"/>
<text x="280.9" y="450.3" font-size="16.8" fill="#000" stroke="#000" stroke-width="0.3" text-anchor="middle">100</text>
<text x="175.8" y="480.5" font-size="17.3" fill="#000" stroke="#000" stroke-width="0.3" text-anchor="middle">Contrast (%)</text>
<text x="25.2" y="335.7" font-size="17" fill="#000" stroke="#000" stroke-width="0.3" text-anchor="middle" transform="rotate(-90 25.2 335.7)">Norm. amplitude</text>
<path d="M86.10,274.20 L134.80,338.50 L159.15,355.00 L173.76,363.50 L193.24,370.00 L207.85,376.50 L232.20,383.50 L280.90,398.00" fill="none" stroke="#c8d8fa" stroke-width="2.0" stroke-linejoin="round"/>
<circle cx="86.10" cy="274.20" r="2.9" fill="#c8d8fa"/>
<circle cx="134.80" cy="338.50" r="3" fill="#c8d8fa"/>
<circle cx="159.15" cy="355.00" r="3" fill="#c8d8fa"/>
<circle cx="173.76" cy="363.50" r="3" fill="#c8d8fa"/>
<circle cx="193.24" cy="370.00" r="3" fill="#c8d8fa"/>
<circle cx="207.85" cy="376.50" r="3" fill="#c8d8fa"/>
<circle cx="232.20" cy="383.50" r="3" fill="#c8d8fa"/>
<circle cx="280.90" cy="398.00" r="3" fill="#c8d8fa"/>
<path d="M86.10,274.20 L134.80,347.30 L159.15,359.80 L173.76,365.00 L193.24,369.50 L207.85,373.00 L232.20,378.50 L280.90,386.10" fill="none" stroke="#0a3cf0" stroke-width="2.0" stroke-linejoin="round"/>
<circle cx="86.10" cy="274.20" r="2.9" fill="#0a3cf0"/>
<circle cx="134.80" cy="347.30" r="3" fill="#0a3cf0"/>
<circle cx="159.15" cy="359.80" r="3" fill="#0a3cf0"/>
<circle cx="173.76" cy="365.00" r="3" fill="#0a3cf0"/>
<circle cx="193.24" cy="369.50" r="3" fill="#0a3cf0"/>
<circle cx="207.85" cy="373.00" r="3" fill="#0a3cf0"/>
<circle cx="232.20" cy="378.50" r="3" fill="#0a3cf0"/>
<circle cx="280.90" cy="386.10" r="3" fill="#0a3cf0"/>
<path d="M86.10,274.20 L134.80,342.10 L159.15,357.60 L173.76,362.80 L193.24,369.50 L207.85,374.70 L232.20,380.40 L280.90,391.20" fill="none" stroke="#d0004c" stroke-width="2.0" stroke-linejoin="round"/>
<circle cx="86.10" cy="274.20" r="2.9" fill="#d0004c"/>
<rect x="131.80" y="339.10" width="6" height="6" fill="#d0004c"/>
<rect x="156.15" y="354.60" width="6" height="6" fill="#d0004c"/>
<rect x="170.76" y="359.80" width="6" height="6" fill="#d0004c"/>
<rect x="190.24" y="366.50" width="6" height="6" fill="#d0004c"/>
<rect x="204.85" y="371.70" width="6" height="6" fill="#d0004c"/>
<rect x="229.20" y="377.40" width="6" height="6" fill="#d0004c"/>
<rect x="277.90" y="388.20" width="6" height="6" fill="#d0004c"/>
<path d="M86.10,274.20 L134.80,334.90 L159.15,353.90 L173.76,364.20 L193.24,371.00 L207.85,378.20 L232.20,386.10 L280.90,397.50" fill="none" stroke="#fbbfd6" stroke-width="2.0" stroke-linejoin="round"/>
<circle cx="86.10" cy="274.20" r="2.9" fill="#fbbfd6"/>
<rect x="131.80" y="331.90" width="6" height="6" fill="#fbbfd6"/>
<rect x="156.15" y="350.90" width="6" height="6" fill="#fbbfd6"/>
<rect x="170.76" y="361.20" width="6" height="6" fill="#fbbfd6"/>
<rect x="190.24" y="368.00" width="6" height="6" fill="#fbbfd6"/>
<rect x="204.85" y="375.20" width="6" height="6" fill="#fbbfd6"/>
<rect x="229.20" y="383.10" width="6" height="6" fill="#fbbfd6"/>
<rect x="277.90" y="394.50" width="6" height="6" fill="#fbbfd6"/>
<circle cx="193.24" cy="369.6" r="2.9" fill="#c8d8fa" fill-opacity="0.7"/>
<rect x="277.90" y="394.6" width="6" height="9.4" fill="#fbbfd6"/>
<text x="175.7" y="277.2" font-size="14.3" fill="#c8185a" stroke="#c8185a" stroke-width="0.3" text-anchor="start">Fovea (50000 R*)</text>
<text x="175.7" y="296.4" font-size="14.3" fill="#1a3ed0" stroke="#1a3ed0" stroke-width="0.3" text-anchor="start">Peri (50000 R*)</text>
<text x="175.7" y="323.7" font-size="14.3" fill="#f9bcd3" stroke="#f9bcd3" stroke-width="0.3" text-anchor="start">Fovea (5000 R*)</text>
<text x="175.7" y="341.4" font-size="14.3" fill="#c8d6f8" stroke="#c8d6f8" stroke-width="0.3" text-anchor="start">Peri (5000 R*)</text>
<path d="M428.5,272.6 L428.5,418.8 L673.7,418.8" fill="none" stroke="#111" stroke-width="1.6"/>
<line x1="418.8" y1="296.5" x2="428.5" y2="296.5" stroke="#000" stroke-width="1.6"/>
<text x="413.6" y="302.6" font-size="16.6" fill="#000" stroke="#000" stroke-width="0.3" text-anchor="end">5</text>
<line x1="423.2" y1="355.3" x2="428.5" y2="355.3" stroke="#000" stroke-width="1.6"/>
<line x1="418.8" y1="414.4" x2="428.5" y2="414.4" stroke="#000" stroke-width="1.6"/>
<text x="413.6" y="420.2" font-size="16.6" fill="#000" stroke="#000" stroke-width="0.3" text-anchor="end">0</text>
<line x1="432.8" y1="418.8" x2="432.8" y2="428.4" stroke="#000" stroke-width="1.6"/>
<text x="432.8" y="450.3" font-size="16.8" fill="#000" stroke="#000" stroke-width="0.3" text-anchor="middle">0</text>
<line x1="547.7" y1="418.8" x2="547.7" y2="428.4" stroke="#000" stroke-width="1.6"/>
<text x="547.7" y="450.3" font-size="16.8" fill="#000" stroke="#000" stroke-width="0.3" text-anchor="middle">50</text>
<line x1="662.6" y1="418.8" x2="662.6" y2="428.4" stroke="#000" stroke-width="1.6"/>
<text x="662.6" y="450.3" font-size="16.8" fill="#000" stroke="#000" stroke-width="0.3" text-anchor="middle">100</text>
<text x="553.7" y="479.5" font-size="17.3" fill="#000" stroke="#000" stroke-width="0.3" text-anchor="middle">Contrast (%)</text>
<text x="376.1" y="351.5" font-size="17.2" fill="#000" stroke="#000" stroke-width="0.3" text-anchor="middle" transform="rotate(-90 376.1 351.5)">Response ratio</text>
<text x="396.1" y="348.8" font-size="17.2" fill="#000" stroke="#000" stroke-width="0.3" text-anchor="middle" transform="rotate(-90 396.1 348.8)">(OFF / ON)</text>
<line x1="455.78000000000003" y1="387" x2="455.78000000000003" y2="393.5" stroke="#c8d6f8" stroke-width="2.4"/>
<rect x="452.68" y="385.6" width="6.2" height="2.8" fill="#c8d6f8"/>
<rect x="452.68" y="392.1" width="6.2" height="2.8" fill="#c8d6f8"/>
<circle cx="455.78000000000003" cy="390.5" r="3.1" fill="#c8d6f8"/>
<line x1="455.78000000000003" y1="389" x2="455.78000000000003" y2="404" stroke="#f9bcd4" stroke-width="2.4"/>
<rect x="452.68" y="387.6" width="6.2" height="2.8" fill="#f9bcd4"/>
<rect x="452.68" y="402.6" width="6.2" height="2.8" fill="#f9bcd4"/>
<circle cx="455.78000000000003" cy="393.3" r="3.1" fill="#f9bcd4"/>
<line x1="455.78000000000003" y1="380.4" x2="455.78000000000003" y2="386" stroke="#0a44f0" stroke-width="2.4"/>
<rect x="452.68" y="379.0" width="6.2" height="2.8" fill="#0a44f0"/>
<rect x="452.68" y="384.6" width="6.2" height="2.8" fill="#0a44f0"/>
<circle cx="455.78000000000003" cy="383" r="3.1" fill="#0a44f0"/>
<line x1="455.78000000000003" y1="383.5" x2="455.78000000000003" y2="387.5" stroke="#f2005c" stroke-width="2.4"/>
<rect x="452.68" y="382.1" width="6.2" height="2.8" fill="#f2005c"/>
<rect x="452.68" y="386.1" width="6.2" height="2.8" fill="#f2005c"/>
<circle cx="455.78000000000003" cy="385.5" r="3.1" fill="#f2005c"/>
<line x1="490.25" y1="379.5" x2="490.25" y2="385.5" stroke="#f2005c" stroke-width="2.4"/>
<rect x="487.15" y="378.1" width="6.2" height="2.8" fill="#f2005c"/>
<rect x="487.15" y="384.1" width="6.2" height="2.8" fill="#f2005c"/>
<circle cx="490.25" cy="382.5" r="3.1" fill="#f2005c"/>
<line x1="547.7" y1="371" x2="547.7" y2="376" stroke="#c8d6f8" stroke-width="2.4"/>
<rect x="544.6" y="369.6" width="6.2" height="2.8" fill="#c8d6f8"/>
<rect x="544.6" y="374.6" width="6.2" height="2.8" fill="#c8d6f8"/>
<circle cx="547.7" cy="373" r="3.1" fill="#c8d6f8"/>
<line x1="547.7" y1="370" x2="547.7" y2="375.5" stroke="#f9bcd4" stroke-width="2.4"/>
<rect x="544.6" y="368.6" width="6.2" height="2.8" fill="#f9bcd4"/>
<rect x="544.6" y="374.1" width="6.2" height="2.8" fill="#f9bcd4"/>
<circle cx="547.7" cy="372.5" r="3.1" fill="#f9bcd4"/>
<line x1="547.7" y1="367.2" x2="547.7" y2="373.2" stroke="#f2005c" stroke-width="2.4"/>
<rect x="544.6" y="365.8" width="6.2" height="2.8" fill="#f2005c"/>
<rect x="544.6" y="371.8" width="6.2" height="2.8" fill="#f2005c"/>
<circle cx="547.7" cy="370.2" r="3.1" fill="#f2005c"/>
<line x1="662.6" y1="339.5" x2="662.6" y2="347" stroke="#c8d6f8" stroke-width="2.4"/>
<rect x="659.5" y="338.1" width="6.2" height="2.8" fill="#c8d6f8"/>
<rect x="659.5" y="345.6" width="6.2" height="2.8" fill="#c8d6f8"/>
<circle cx="662.6" cy="343.2" r="3.1" fill="#c8d6f8"/>
<line x1="662.6" y1="335.5" x2="662.6" y2="351.5" stroke="#f9bcd4" stroke-width="2.4"/>
<rect x="659.5" y="334.1" width="6.2" height="2.8" fill="#f9bcd4"/>
<rect x="659.5" y="350.1" width="6.2" height="2.8" fill="#f9bcd4"/>
<circle cx="662.6" cy="343.4" r="3.1" fill="#f9bcd4"/>
<line x1="662.6" y1="289.8" x2="662.6" y2="301.6" stroke="#0a44f0" stroke-width="2.4"/>
<rect x="659.5" y="288.40000000000003" width="6.2" height="2.8" fill="#0a44f0"/>
<rect x="659.5" y="300.20000000000005" width="6.2" height="2.8" fill="#0a44f0"/>
<circle cx="662.6" cy="295.7" r="3.1" fill="#0a44f0"/>
<line x1="662.6" y1="314.3" x2="662.6" y2="328.5" stroke="#f2005c" stroke-width="2.4"/>
<rect x="659.5" y="312.90000000000003" width="6.2" height="2.8" fill="#f2005c"/>
<rect x="659.5" y="327.1" width="6.2" height="2.8" fill="#f2005c"/>
<circle cx="662.6" cy="321.4" r="3.1" fill="#f2005c"/>
<text x="439.8" y="275.8" font-size="14.3" fill="#d0185a" stroke="#d0185a" stroke-width="0.3" text-anchor="start">Fovea (50000 R*)</text>
<text x="439.8" y="296.5" font-size="14.3" fill="#1a3ed0" stroke="#1a3ed0" stroke-width="0.3" text-anchor="start">Peri (50000 R*)</text>
<text x="439.8" y="322.4" font-size="14.3" fill="#f9bcd3" stroke="#f9bcd3" stroke-width="0.3" text-anchor="start">Fovea (5000 R*)</text>
<text x="439.8" y="340.4" font-size="14.3" fill="#c8d6f8" stroke="#c8d6f8" stroke-width="0.3" text-anchor="start">Peri (5000 R*)</text>
<text x="45.8" y="593.8" font-size="14.3" fill="#f0146a" stroke="#f0146a" stroke-width="0.3" text-anchor="middle">Fovea</text>
<text x="48" y="609.7" font-size="14.3" fill="#f0146a" stroke="#f0146a" stroke-width="0.3" text-anchor="middle">(50000 R*)</text>
<text x="45.8" y="763.8" font-size="14.3" fill="#1e3cf0" stroke="#1e3cf0" stroke-width="0.3" text-anchor="middle">Periphery</text>
<text x="48" y="779.7" font-size="14.3" fill="#1e3cf0" stroke="#1e3cf0" stroke-width="0.3" text-anchor="middle">(50000 R*)</text>
<line x1="127.6" y1="548.8" x2="127.6" y2="654" stroke="#000" stroke-width="1.6" stroke-dasharray="3,3"/>
<line x1="127.6" y1="716.2" x2="127.6" y2="823" stroke="#000" stroke-width="1.6" stroke-dasharray="3,3"/>
<path d="M114.60,600.97 L115.35,601.15 L116.10,601.16 L116.85,601.42 L117.60,601.40 L118.35,601.38 L119.10,601.24 L119.85,601.19 L120.60,601.14 L121.35,601.10 L122.10,601.28 L122.85,601.31 L123.60,601.22 L124.35,601.09 L125.10,601.08 L125.85,601.12 L126.60,601.37 L127.35,601.68 L128.10,601.88 L128.85,601.88 L129.60,601.83 L130.35,601.59 L131.10,601.31 L131.85,601.19 L132.60,601.23 L133.35,601.38 L134.10,601.50 L134.85,601.59 L135.60,601.97 L136.35,602.52 L137.10,603.21 L137.85,604.21 L138.60,605.31 L139.35,606.56 L140.10,608.28 L140.85,610.38 L141.60,613.20 L142.35,616.42 L143.10,619.79 L143.85,622.91 L144.60,626.01 L145.35,629.02 L146.10,631.38 L146.85,634.04 L147.60,636.67 L148.35,639.02 L149.10,641.31 L149.85,643.17 L150.60,644.55 L151.35,646.07 L152.10,647.25 L152.85,647.96 L153.60,648.39 L154.35,648.75 L155.10,649.09 L155.85,649.40 L156.60,649.18 L157.35,649.04 L158.10,648.88 L158.85,648.39 L159.60,647.94 L160.35,646.95 L161.10,645.65 L161.85,644.03 L162.60,642.60 L163.35,640.92 L164.10,639.21 L164.85,637.68 L165.60,635.45 L166.35,633.45 L167.10,630.99 L167.85,628.29 L168.60,626.07 L169.35,623.63 L170.10,621.55 L170.85,619.22 L171.60,617.07 L172.35,615.01 L173.10,612.72 L173.85,610.91 L174.60,608.89 L175.35,606.69 L176.10,604.97 L176.85,603.35 L177.60,601.96 L178.35,601.09 L179.10,599.85 L179.85,598.66 L180.60,597.63 L181.35,596.10 L182.10,594.92 L182.85,593.99 L183.60,592.97 L184.35,592.49 L185.10,591.90 L185.85,591.52 L186.60,591.21 L187.35,590.71 L188.10,590.30 L188.85,589.86 L189.60,589.56 L190.35,589.14 L191.10,589.05 L191.85,588.90 L192.60,588.69 L193.35,588.90 L194.10,588.93 L194.85,588.69 L195.60,588.66 L196.35,588.39 L197.10,588.39 L197.85,588.49 L198.60,588.72 L199.35,589.01 L200.10,589.19 L200.85,589.42 L201.60,589.28 L202.35,589.62 L203.10,589.67 L203.85,590.08 L204.60,590.57 L205.35,590.77 L206.10,591.41 L206.85,591.72 L207.60,592.29 L208.35,592.48 L209.10,592.88 L209.85,593.37 L210.60,593.76 L211.35,594.51 L212.10,594.97 L212.85,595.66 L213.60,595.82 L214.35,596.18 L215.10,596.38 L215.85,596.62 L216.60,597.08 L217.35,597.38 L218.10,597.63 L218.85,597.77 L219.60,598.15 L220.35,598.22 L221.10,598.43 L221.85,598.27 L222.60,598.22 L223.35,598.31 L224.10,598.07 L224.85,598.19 L225.60,597.71 L226.35,597.28 L227.10,597.21 L227.85,597.12 L228.60,597.55 L229.35,597.98 L230.10,598.38 L230.85,598.77 L231.60,598.92 L232.35,598.95 L233.10,598.98 L233.85,599.34 L234.60,599.29 L235.35,599.61 L236.10,600.12 L236.85,600.08 L237.60,600.41 L238.35,600.56 L239.10,600.58 L239.85,600.75 L240.60,600.81 L241.35,600.97 L242.10,600.96 L242.85,601.01 L243.60,601.35 L244.35,601.26 L245.10,601.10 L245.85,601.06 L246.60,601.15 L247.35,601.32 L248.10,601.57 L248.85,601.87 L249.60,601.56 L250.35,601.63 L251.10,601.57 L251.85,601.32 L252.60,601.51" fill="none" stroke="#f8aac8" stroke-width="1.6" stroke-linejoin="round" stroke-linecap="round"/>
<path d="M114.60,601.24 L115.35,601.44 L116.10,601.55 L116.85,601.41 L117.60,601.27 L118.35,601.33 L119.10,601.30 L119.85,601.47 L120.60,601.44 L121.35,601.15 L122.10,600.91 L122.85,600.71 L123.60,601.07 L124.35,601.32 L125.10,601.57 L125.85,601.69 L126.60,601.66 L127.35,601.56 L128.10,601.61 L128.85,601.61 L129.60,601.27 L130.35,601.25 L131.10,601.35 L131.85,601.28 L132.60,601.50 L133.35,601.46 L134.10,601.23 L134.85,601.34 L135.60,601.01 L136.35,600.45 L137.10,599.54 L137.85,598.44 L138.60,597.00 L139.35,595.44 L140.10,594.00 L140.85,591.84 L141.60,588.81 L142.35,585.71 L143.10,582.38 L143.85,578.86 L144.60,575.66 L145.35,571.58 L146.10,567.50 L146.85,563.88 L147.60,560.43 L148.35,557.74 L149.10,555.39 L149.85,553.46 L150.60,551.73 L151.35,550.31 L152.10,549.69 L152.85,549.48 L153.60,549.15 L154.35,548.72 L155.10,548.55 L155.85,548.44 L156.60,548.60 L157.35,549.13 L158.10,549.86 L158.85,550.36 L159.60,551.43 L160.35,552.84 L161.10,554.07 L161.85,555.66 L162.60,557.28 L163.35,559.25 L164.10,561.73 L164.85,564.32 L165.60,567.06 L166.35,569.78 L167.10,572.37 L167.85,574.63 L168.60,576.87 L169.35,578.98 L170.10,581.20 L170.85,583.53 L171.60,585.60 L172.35,587.63 L173.10,589.35 L173.85,591.29 L174.60,593.12 L175.35,594.98 L176.10,596.76 L176.85,598.32 L177.60,599.80 L178.35,601.06 L179.10,602.64 L179.85,603.97 L180.60,605.41 L181.35,606.61 L182.10,607.66 L182.85,608.54 L183.60,609.37 L184.35,610.35 L185.10,611.29 L185.85,612.33 L186.60,613.13 L187.35,613.97 L188.10,614.52 L188.85,615.05 L189.60,615.57 L190.35,615.87 L191.10,616.20 L191.85,616.53 L192.60,616.71 L193.35,617.03 L194.10,617.38 L194.85,617.56 L195.60,617.60 L196.35,617.36 L197.10,617.11 L197.85,616.81 L198.60,616.75 L199.35,616.58 L200.10,616.28 L200.85,616.07 L201.60,615.60 L202.35,615.33 L203.10,615.20 L203.85,614.89 L204.60,614.58 L205.35,614.17 L206.10,613.40 L206.85,612.82 L207.60,612.28 L208.35,611.83 L209.10,611.46 L209.85,611.02 L210.60,610.65 L211.35,610.33 L212.10,610.22 L212.85,609.93 L213.60,609.45 L214.35,608.99 L215.10,608.34 L215.85,607.91 L216.60,607.86 L217.35,607.73 L218.10,607.55 L218.85,607.39 L219.60,606.98 L220.35,606.51 L221.10,606.17 L221.85,605.80 L222.60,605.80 L223.35,605.59 L224.10,605.66 L224.85,605.70 L225.60,605.32 L226.35,605.28 L227.10,604.89 L227.85,604.56 L228.60,604.48 L229.35,604.31 L230.10,604.32 L230.85,604.30 L231.60,604.10 L232.35,603.98 L233.10,603.72 L233.85,603.48 L234.60,603.18 L235.35,603.06 L236.10,602.97 L236.85,602.71 L237.60,602.97 L238.35,602.72 L239.10,602.51 L239.85,602.56 L240.60,602.03 L241.35,601.98 L242.10,601.84 L242.85,601.64 L243.60,601.79 L244.35,601.86 L245.10,602.11 L245.85,602.26 L246.60,602.36 L247.35,602.35 L248.10,602.13 L248.85,602.12 L249.60,601.89 L250.35,601.71 L251.10,601.89 L251.85,601.81 L252.60,601.84" fill="none" stroke="#8a0c3e" stroke-width="1.9" stroke-linejoin="round" stroke-linecap="round"/>
<text x="218.2" y="631.2" font-size="10" fill="#7e1040" stroke="#7e1040" stroke-width="0.3" text-anchor="start">-100%</text>
<text x="218.3" y="643.6" font-size="10" fill="#f8b4ce" stroke="#f8b4ce" stroke-width="0.3" text-anchor="start">+100%</text>
<path d="M107.9,638.4 L107.9,657.6 L140.1,657.6" fill="none" stroke="#111" stroke-width="1.6"/>
<text x="103.3" y="650.2" font-size="10.5" fill="#000" stroke="#000" stroke-width="0.3" text-anchor="middle" transform="rotate(-90 103.3 650.2)">0.5 mV</text>
<text x="112.5" y="672" font-size="11.2" fill="#000" stroke="#000" stroke-width="0.3" text-anchor="start">50ms</text>
<path d="M114.60,773.47 L115.35,772.70 L116.10,772.34 L116.85,772.35 L117.60,772.15 L118.35,771.75 L119.10,771.43 L119.85,771.20 L120.60,770.99 L121.35,771.36 L122.10,770.93 L122.85,770.69 L123.60,770.26 L124.35,769.87 L125.10,770.04 L125.85,769.95 L126.60,769.90 L127.35,769.90 L128.10,769.59 L128.85,769.20 L129.60,769.46 L130.35,769.47 L131.10,769.44 L131.85,769.64 L132.60,769.63 L133.35,770.06 L134.10,770.73 L134.85,771.31 L135.60,771.95 L136.35,773.25 L137.10,775.13 L137.85,777.22 L138.60,780.62 L139.35,784.24 L140.10,788.39 L140.85,792.46 L141.60,796.65 L142.35,800.94 L143.10,805.11 L143.85,808.05 L144.60,811.48 L145.35,815.18 L146.10,817.27 L146.85,819.33 L147.60,819.73 L148.35,818.79 L149.10,817.43 L149.85,815.82 L150.60,813.87 L151.35,811.06 L152.10,808.43 L152.85,805.33 L153.60,802.40 L154.35,800.17 L155.10,797.30 L155.85,795.09 L156.60,793.17 L157.35,790.64 L158.10,788.67 L158.85,787.42 L159.60,785.86 L160.35,784.68 L161.10,783.85 L161.85,782.33 L162.60,781.20 L163.35,780.30 L164.10,779.82 L164.85,779.10 L165.60,778.37 L166.35,776.91 L167.10,775.29 L167.85,773.78 L168.60,772.69 L169.35,771.90 L170.10,770.94 L170.85,770.26 L171.60,769.09 L172.35,767.92 L173.10,767.13 L173.85,766.00 L174.60,765.07 L175.35,764.57 L176.10,763.67 L176.85,763.47 L177.60,763.52 L178.35,763.37 L179.10,763.31 L179.85,763.04 L180.60,762.79 L181.35,762.18 L182.10,762.03 L182.85,761.67 L183.60,761.10 L184.35,761.34 L185.10,761.08 L185.85,761.29 L186.60,761.68 L187.35,761.17 L188.10,761.21 L188.85,761.51 L189.60,761.60 L190.35,762.61 L191.10,762.98 L191.85,762.71 L192.60,762.77 L193.35,763.11 L194.10,763.77 L194.85,764.39 L195.60,765.01 L196.35,765.31 L197.10,765.10 L197.85,765.40 L198.60,765.90 L199.35,766.28 L200.10,766.56 L200.85,766.91 L201.60,766.36 L202.35,765.62 L203.10,765.04 L203.85,764.71 L204.60,764.58 L205.35,765.07 L206.10,765.46 L206.85,765.22 L207.60,764.87 L208.35,764.70 L209.10,764.60 L209.85,764.62 L210.60,764.67 L211.35,764.71 L212.10,765.16 L212.85,765.27 L213.60,765.94 L214.35,766.03 L215.10,766.24 L215.85,766.67 L216.60,767.35 L217.35,767.63 L218.10,767.74 L218.85,768.08 L219.60,767.66 L220.35,767.97 L221.10,768.67 L221.85,769.13 L222.60,769.71 L223.35,770.08 L224.10,769.50 L224.85,769.22 L225.60,769.15 L226.35,768.78 L227.10,768.54 L227.85,768.31 L228.60,768.11 L229.35,767.30 L230.10,766.96 L230.85,765.83 L231.60,764.53 L232.35,764.36 L233.10,764.08 L233.85,764.47 L234.60,764.86 L235.35,764.85 L236.10,765.23 L236.85,765.80 L237.60,766.16 L238.35,766.21 L239.10,766.62 L239.85,766.72 L240.60,767.21 L241.35,767.87 L242.10,768.34 L242.85,768.45 L243.60,768.58 L244.35,768.30 L245.10,767.84 L245.85,767.79 L246.60,767.78 L247.35,768.32 L248.10,768.37 L248.85,768.94 L249.60,768.81 L250.35,768.73 L251.10,769.01 L251.85,768.49 L252.60,768.90 L253.35,769.21 L254.10,769.19" fill="none" stroke="#7fa0f0" stroke-width="1.7" stroke-linejoin="round" stroke-linecap="round"/>
<path d="M114.60,768.32 L115.35,767.38 L116.10,766.77 L116.85,766.52 L117.60,766.35 L118.35,766.54 L119.10,766.60 L119.85,766.85 L120.60,767.25 L121.35,767.32 L122.10,767.70 L122.85,768.24 L123.60,768.74 L124.35,769.85 L125.10,770.04 L125.85,770.42 L126.60,771.09 L127.35,771.62 L128.10,772.30 L128.85,772.97 L129.60,773.20 L130.35,773.53 L131.10,773.75 L131.85,773.43 L132.60,773.35 L133.35,772.14 L134.10,771.01 L134.85,770.22 L135.60,767.75 L136.35,765.32 L137.10,763.26 L137.85,760.40 L138.60,757.25 L139.35,754.26 L140.10,749.92 L140.85,745.43 L141.60,741.36 L142.35,736.77 L143.10,731.83 L143.85,727.05 L144.60,722.92 L145.35,719.54 L146.10,716.89 L146.85,716.02 L147.60,716.37 L148.35,716.64 L149.10,717.10 L149.85,718.16 L150.60,720.41 L151.35,722.98 L152.10,725.65 L152.85,729.08 L153.60,732.11 L154.35,735.82 L155.10,739.40 L155.85,742.47 L156.60,745.48 L157.35,747.80 L158.10,750.39 L158.85,752.30 L159.60,754.20 L160.35,756.21 L161.10,758.39 L161.85,759.93 L162.60,761.02 L163.35,761.58 L164.10,761.94 L164.85,762.35 L165.60,762.99 L166.35,764.07 L167.10,764.46 L167.85,766.02 L168.60,767.49 L169.35,768.69 L170.10,770.33 L170.85,771.09 L171.60,771.52 L172.35,772.50 L173.10,773.42 L173.85,774.32 L174.60,775.11 L175.35,775.25 L176.10,775.50 L176.85,775.42 L177.60,775.62 L178.35,776.24 L179.10,776.60 L179.85,776.90 L180.60,776.86 L181.35,776.83 L182.10,776.89 L182.85,776.62 L183.60,776.53 L184.35,776.22 L185.10,776.01 L185.85,776.04 L186.60,776.15 L187.35,775.94 L188.10,776.07 L188.85,776.23 L189.60,775.98 L190.35,775.90 L191.10,775.54 L191.85,775.50 L192.60,775.21 L193.35,775.22 L194.10,774.64 L194.85,774.26 L195.60,774.13 L196.35,773.74 L197.10,773.81 L197.85,773.73 L198.60,774.07 L199.35,774.55 L200.10,774.92 L200.85,775.30 L201.60,775.80 L202.35,775.63 L203.10,775.75 L203.85,776.64 L204.60,777.12 L205.35,778.15 L206.10,778.79 L206.85,778.49 L207.60,778.18 L208.35,777.91 L209.10,777.51 L209.85,777.28 L210.60,776.72 L211.35,775.98 L212.10,775.92 L212.85,775.82 L213.60,775.59 L214.35,775.35 L215.10,774.79 L215.85,774.53 L216.60,774.25 L217.35,774.15 L218.10,773.56 L218.85,772.93 L219.60,772.99 L220.35,772.97 L221.10,772.95 L221.85,772.86 L222.60,772.78 L223.35,772.40 L224.10,772.43 L224.85,772.65 L225.60,772.52 L226.35,772.85 L227.10,773.15 L227.85,772.98 L228.60,772.98 L229.35,772.81 L230.10,772.46 L230.85,772.45 L231.60,772.74 L232.35,772.51 L233.10,773.04 L233.85,773.34 L234.60,773.15 L235.35,773.60 L236.10,773.50 L236.85,773.68 L237.60,773.62 L238.35,773.45 L239.10,773.29 L239.85,773.40 L240.60,773.65 L241.35,773.49 L242.10,773.44 L242.85,772.89 L243.60,772.67 L244.35,772.87 L245.10,773.36 L245.85,773.10 L246.60,773.26 L247.35,773.27 L248.10,772.63 L248.85,772.93 L249.60,772.59 L250.35,772.47 L251.10,772.78 L251.85,772.47 L252.60,772.80 L253.35,772.68 L254.10,772.75" fill="none" stroke="#1a2ec8" stroke-width="1.9" stroke-linejoin="round" stroke-linecap="round"/>
<text x="218.2" y="798" font-size="10" fill="#1a2a90" stroke="#1a2a90" stroke-width="0.3" text-anchor="start">-100%</text>
<text x="218.3" y="810.5" font-size="10" fill="#b4c6f6" stroke="#b4c6f6" stroke-width="0.3" text-anchor="start">+100%</text>
<path d="M107.9,811.7 L107.9,827 L140.9,827" fill="none" stroke="#111" stroke-width="1.6"/>
<text x="102.4" y="818.5" font-size="10.5" fill="#000" stroke="#000" stroke-width="0.3" text-anchor="middle" transform="rotate(-90 102.4 818.5)">0.5 mV</text>
<text x="111.5" y="842" font-size="11.2" fill="#000" stroke="#000" stroke-width="0.3" text-anchor="start">50ms</text>
<path d="M424.2,603.2 L424.2,789.9 L685,789.9" fill="none" stroke="#111" stroke-width="1.6"/>
<line x1="414" y1="783.2" x2="424.2" y2="783.2" stroke="#000" stroke-width="1.6"/>
<line x1="418.8" y1="758.3000000000001" x2="424.2" y2="758.3000000000001" stroke="#000" stroke-width="1.6"/>
<line x1="418.8" y1="733.4000000000001" x2="424.2" y2="733.4000000000001" stroke="#000" stroke-width="1.6"/>
<line x1="418.8" y1="708.5" x2="424.2" y2="708.5" stroke="#000" stroke-width="1.6"/>
<line x1="418.8" y1="683.6" x2="424.2" y2="683.6" stroke="#000" stroke-width="1.6"/>
<line x1="414" y1="658.7" x2="424.2" y2="658.7" stroke="#000" stroke-width="1.6"/>
<line x1="418.8" y1="633.8000000000001" x2="424.2" y2="633.8000000000001" stroke="#000" stroke-width="1.6"/>
<line x1="418.8" y1="608.9000000000001" x2="424.2" y2="608.9000000000001" stroke="#000" stroke-width="1.6"/>
<text x="409.4" y="665.5" font-size="18.8" fill="#000" stroke="#000" stroke-width="0.3" text-anchor="end">50</text>
<text x="409.4" y="790.0" font-size="18.8" fill="#000" stroke="#000" stroke-width="0.3" text-anchor="end">0</text>
<text x="372.6" y="689.4" font-size="17.3" fill="#000" stroke="#000" stroke-width="0.3" text-anchor="middle" transform="rotate(-90 372.6 689.4)">Time to peak (msec)</text>
<text x="481.5" y="581" font-size="14.3" fill="#f0186a" stroke="#f0186a" stroke-width="0.3" text-anchor="middle">Fovea</text>
<text x="483.5" y="596.8" font-size="14.3" fill="#f0186a" stroke="#f0186a" stroke-width="0.3" text-anchor="middle">(50000 R*)</text>
<text x="631.8" y="581.1" font-size="14.3" fill="#2038e0" stroke="#2038e0" stroke-width="0.3" text-anchor="middle">Periphery</text>
<text x="633.7" y="596.7" font-size="14.3" fill="#2038e0" stroke="#2038e0" stroke-width="0.3" text-anchor="middle">(50000 R*)</text>
<line x1="455.7" y1="640.7" x2="455.7" y2="655.2" stroke="#f0186a" stroke-width="1.5"/>
<line x1="452.9" y1="640.7" x2="458.5" y2="640.7" stroke="#f0186a" stroke-width="1.6"/>
<line x1="452.9" y1="655.2" x2="458.5" y2="655.2" stroke="#f0186a" stroke-width="1.6"/>
<circle cx="455.7" cy="647.8" r="3.4" fill="#f0186a"/>
<line x1="506.5" y1="639.6" x2="506.5" y2="656.3" stroke="#f0186a" stroke-width="1.5"/>
<line x1="503.7" y1="639.6" x2="509.3" y2="639.6" stroke="#f0186a" stroke-width="1.6"/>
<line x1="503.7" y1="656.3" x2="509.3" y2="656.3" stroke="#f0186a" stroke-width="1.6"/>
<circle cx="506.5" cy="647.8" r="3.4" fill="#f0186a"/>
<line x1="608.1" y1="694.2" x2="608.1" y2="700" stroke="#0a3cf0" stroke-width="1.5"/>
<line x1="605.3000000000001" y1="694.2" x2="610.9" y2="694.2" stroke="#0a3cf0" stroke-width="1.6"/>
<line x1="605.3000000000001" y1="700" x2="610.9" y2="700" stroke="#0a3cf0" stroke-width="1.6"/>
<circle cx="608.1" cy="697.1" r="3.4" fill="#0a3cf0"/>
<line x1="658.6" y1="691.5" x2="658.6" y2="703.5" stroke="#0a3cf0" stroke-width="1.5"/>
<line x1="655.8000000000001" y1="691.5" x2="661.4" y2="691.5" stroke="#0a3cf0" stroke-width="1.6"/>
<line x1="655.8000000000001" y1="703.5" x2="661.4" y2="703.5" stroke="#0a3cf0" stroke-width="1.6"/>
<circle cx="658.6" cy="697.6" r="3.4" fill="#0a3cf0"/>
<line x1="455.7" y1="620.4" x2="506.5" y2="625.3" stroke="#f77aaa" stroke-width="1.6"/>
<circle cx="455.7" cy="620.4" r="3.4" fill="none" stroke="#f77aaa" stroke-width="1.5"/>
<circle cx="506.5" cy="625.3" r="3.4" fill="none" stroke="#f77aaa" stroke-width="1.5"/>
<line x1="455.7" y1="654.9" x2="506.5" y2="630.8" stroke="#f77aaa" stroke-width="1.6"/>
<circle cx="455.7" cy="654.9" r="3.4" fill="none" stroke="#f77aaa" stroke-width="1.5"/>
<circle cx="506.5" cy="630.8" r="3.4" fill="none" stroke="#f77aaa" stroke-width="1.5"/>
<line x1="455.7" y1="648.3" x2="506.5" y2="650.3" stroke="#f77aaa" stroke-width="1.6"/>
<circle cx="455.7" cy="648.3" r="3.4" fill="none" stroke="#f77aaa" stroke-width="1.5"/>
<circle cx="506.5" cy="650.3" r="3.4" fill="none" stroke="#f77aaa" stroke-width="1.5"/>
<line x1="455.7" y1="648.3" x2="506.5" y2="660.9" stroke="#f77aaa" stroke-width="1.6"/>
<circle cx="455.7" cy="648.3" r="3.4" fill="none" stroke="#f77aaa" stroke-width="1.5"/>
<circle cx="506.5" cy="660.9" r="3.4" fill="none" stroke="#f77aaa" stroke-width="1.5"/>
<line x1="455.7" y1="669.7" x2="506.5" y2="671.3" stroke="#f77aaa" stroke-width="1.6"/>
<circle cx="455.7" cy="669.7" r="3.4" fill="none" stroke="#f77aaa" stroke-width="1.5"/>
<circle cx="506.5" cy="671.3" r="3.4" fill="none" stroke="#f77aaa" stroke-width="1.5"/>
<line x1="608.1" y1="684.9" x2="658.6" y2="673.8" stroke="#2a58f0" stroke-width="1.6"/>
<circle cx="608.1" cy="684.9" r="3.4" fill="none" stroke="#2a58f0" stroke-width="1.5"/>
<circle cx="658.6" cy="673.8" r="3.4" fill="none" stroke="#2a58f0" stroke-width="1.5"/>
<line x1="608.1" y1="697.1" x2="658.6" y2="702" stroke="#2a58f0" stroke-width="1.6"/>
<circle cx="608.1" cy="697.1" r="3.4" fill="none" stroke="#2a58f0" stroke-width="1.5"/>
<circle cx="658.6" cy="702" r="3.4" fill="none" stroke="#2a58f0" stroke-width="1.5"/>
<line x1="608.1" y1="707.3" x2="658.6" y2="708.1" stroke="#2a58f0" stroke-width="1.6"/>
<circle cx="608.1" cy="707.3" r="3.4" fill="none" stroke="#2a58f0" stroke-width="1.5"/>
<circle cx="658.6" cy="708.1" r="3.4" fill="none" stroke="#2a58f0" stroke-width="1.5"/>
<text x="429.5" y="849.5" font-size="17" fill="#f0186a" stroke="#f0186a" stroke-width="0.3" transform="rotate(-60 429.5 849.5)">+100%</text>
<text x="487.5" y="844" font-size="17" fill="#f0186a" stroke="#f0186a" stroke-width="0.3" transform="rotate(-60 487.5 844)">-100%</text>
<text x="580" y="846" font-size="17" fill="#2038e0" stroke="#2038e0" stroke-width="0.3" transform="rotate(-60 580 846)">+100%</text>
<text x="636" y="842" font-size="17" fill="#2038e0" stroke="#2038e0" stroke-width="0.3" transform="rotate(-60 636 842)">-100%</text>
</svg></body></html>
